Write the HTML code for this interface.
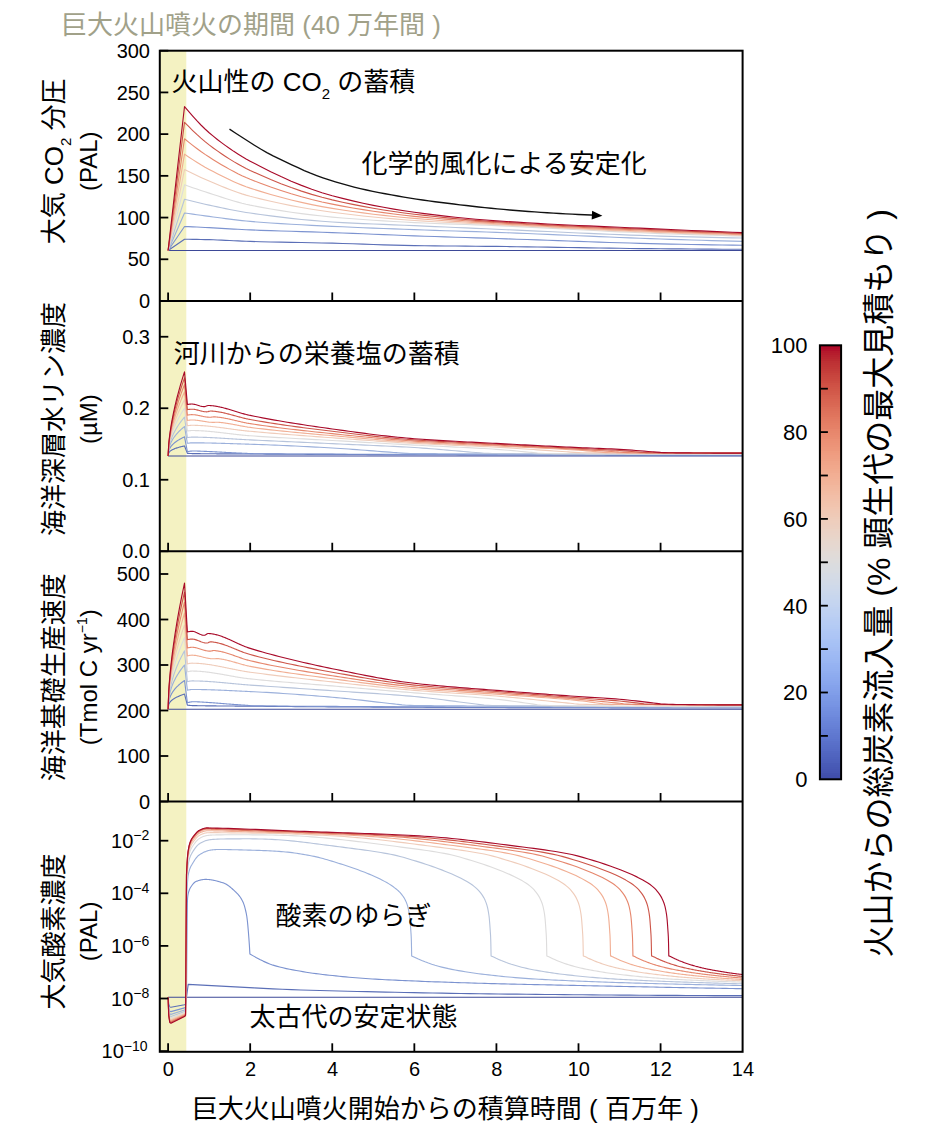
<!DOCTYPE html>
<html><head><meta charset="utf-8"><title>chart</title>
<style>html,body{margin:0;padding:0;background:#fff;font-family:"Liberation Sans",sans-serif;}svg{display:block;}svg text{font-family:"Liberation Sans","Noto Sans CJK JP",sans-serif;}</style>
</head><body>
<svg width="927" height="1134" viewBox="0 0 927 1134">
<rect x="159.8" y="50.7" width="26.5" height="1001.1" fill="#f4f2c2"/>
<polyline points="168.1,250.52 184.52,250.52 188.62,250.52 192.72,250.52 196.83,250.52 200.93,250.52 205.04,250.52 209.14,250.52 213.24,250.52 217.35,250.52 221.45,250.52 225.56,250.52 229.66,250.52 233.76,250.52 237.87,250.52 241.97,250.52 246.08,250.52 250.18,250.52 260.44,250.52 270.7,250.52 280.96,250.52 291.22,250.52 301.48,250.52 311.74,250.52 322,250.52 332.26,250.52 342.52,250.52 352.78,250.52 363.04,250.52 373.3,250.52 383.56,250.52 393.82,250.52 404.08,250.52 414.34,250.52 424.6,250.52 434.86,250.52 445.12,250.52 455.38,250.52 465.64,250.52 475.9,250.52 486.16,250.52 496.42,250.52 506.68,250.52 516.94,250.52 527.2,250.52 537.46,250.52 547.72,250.52 557.98,250.52 568.24,250.52 578.5,250.52 588.76,250.52 599.02,250.52 609.28,250.52 619.54,250.52 629.8,250.52 640.06,250.52 650.32,250.52 660.58,250.52 670.84,250.52 681.1,250.52 691.36,250.52 701.62,250.52 711.88,250.52 722.14,250.52 732.4,250.52 742.66,250.52" fill="none" stroke="#3d4997" stroke-width="1.12" stroke-linejoin="round"/>
<polyline points="168.1,250.52 184.52,239.26 188.62,239.3 192.72,239.35 196.83,239.42 200.93,239.5 205.04,239.58 209.14,239.68 213.24,239.79 217.35,239.94 221.45,240.12 225.56,240.32 229.66,240.52 233.76,240.73 237.87,240.93 241.97,241.12 246.08,241.29 250.18,241.43 260.44,241.71 270.7,241.95 280.96,242.16 291.22,242.35 301.48,242.54 311.74,242.73 322,242.94 332.26,243.18 342.52,243.46 352.78,243.79 363.04,244.13 373.3,244.49 383.56,244.83 393.82,245.14 404.08,245.41 414.34,245.6 424.6,245.74 434.86,245.86 445.12,245.96 455.38,246.05 465.64,246.14 475.9,246.23 486.16,246.32 496.42,246.43 506.68,246.56 516.94,246.7 527.2,246.85 537.46,247.01 547.72,247.17 557.98,247.34 568.24,247.5 578.5,247.67 588.76,247.84 599.02,248 609.28,248.16 619.54,248.31 629.8,248.44 640.06,248.57 650.32,248.68 660.58,248.77 670.84,248.85 681.1,248.93 691.36,249 701.62,249.07 711.88,249.13 722.14,249.19 732.4,249.23 742.66,249.27" fill="none" stroke="#5b6fb7" stroke-width="1.12" stroke-linejoin="round"/>
<polyline points="168.1,250.52 184.52,226.49 188.62,226.68 192.72,226.87 196.83,227.06 200.93,227.26 205.04,227.46 209.14,227.66 213.24,227.88 217.35,228.11 221.45,228.35 225.56,228.59 229.66,228.83 233.76,229.07 237.87,229.31 241.97,229.53 246.08,229.73 250.18,229.91 260.44,230.32 270.7,230.68 280.96,231.01 291.22,231.31 301.48,231.61 311.74,231.92 322,232.24 332.26,232.58 342.52,232.97 352.78,233.37 363.04,233.79 373.3,234.21 383.56,234.64 393.82,235.06 404.08,235.46 414.34,235.84 424.6,236.2 434.86,236.54 445.12,236.88 455.38,237.21 465.64,237.53 475.9,237.85 486.16,238.18 496.42,238.51 506.68,238.85 516.94,239.2 527.2,239.56 537.46,239.93 547.72,240.3 557.98,240.67 568.24,241.03 578.5,241.4 588.76,241.76 599.02,242.1 609.28,242.44 619.54,242.76 629.8,243.06 640.06,243.35 650.32,243.61 660.58,243.85 670.84,244.07 681.1,244.27 691.36,244.47 701.62,244.66 711.88,244.83 722.14,244.99 732.4,245.13 742.66,245.27" fill="none" stroke="#7c93d0" stroke-width="1.12" stroke-linejoin="round"/>
<polyline points="168.1,250.52 184.52,212.98 188.62,213.57 192.72,214.16 196.83,214.73 200.93,215.3 205.04,215.86 209.14,216.4 213.24,216.94 217.35,217.5 221.45,218.05 225.56,218.6 229.66,219.14 233.76,219.66 237.87,220.16 241.97,220.62 246.08,221.03 250.18,221.4 260.44,222.22 270.7,222.95 280.96,223.62 291.22,224.23 301.48,224.79 311.74,225.32 322,225.83 332.26,226.33 342.52,226.81 352.78,227.27 363.04,227.71 373.3,228.12 383.56,228.52 393.82,228.91 404.08,229.29 414.34,229.66 424.6,230.02 434.86,230.36 445.12,230.69 455.38,231 465.64,231.32 475.9,231.64 486.16,231.98 496.42,232.33 506.68,232.71 516.94,233.11 527.2,233.52 537.46,233.94 547.72,234.38 557.98,234.82 568.24,235.27 578.5,235.72 588.76,236.16 599.02,236.6 609.28,237.04 619.54,237.47 629.8,237.88 640.06,238.27 650.32,238.65 660.58,239.01 670.84,239.35 681.1,239.68 691.36,239.99 701.62,240.3 711.88,240.6 722.14,240.88 732.4,241.16 742.66,241.43" fill="none" stroke="#9bb0db" stroke-width="1.12" stroke-linejoin="round"/>
<polyline points="168.1,250.52 184.52,199.21 188.62,200.26 192.72,201.3 196.83,202.3 200.93,203.28 205.04,204.23 209.14,205.14 213.24,206.02 217.35,206.91 221.45,207.78 225.56,208.64 229.66,209.47 233.76,210.27 237.87,211.04 241.97,211.77 246.08,212.44 250.18,213.06 260.44,214.5 270.7,215.87 280.96,217.16 291.22,218.35 301.48,219.44 311.74,220.41 322,221.27 332.26,221.99 342.52,222.59 352.78,223.12 363.04,223.59 373.3,224.02 383.56,224.42 393.82,224.82 404.08,225.23 414.34,225.66 424.6,226.11 434.86,226.57 445.12,227.02 455.38,227.47 465.64,227.92 475.9,228.36 486.16,228.81 496.42,229.25 506.68,229.69 516.94,230.15 527.2,230.61 537.46,231.08 547.72,231.55 557.98,232.02 568.24,232.49 578.5,232.95 588.76,233.4 599.02,233.84 609.28,234.27 619.54,234.68 629.8,235.07 640.06,235.43 650.32,235.78 660.58,236.09 670.84,236.38 681.1,236.66 691.36,236.92 701.62,237.17 711.88,237.4 722.14,237.62 732.4,237.82 742.66,238.01" fill="none" stroke="#b7c4db" stroke-width="1.12" stroke-linejoin="round"/>
<polyline points="168.1,250.52 184.52,184.78 188.62,186.23 192.72,187.66 196.83,189.07 200.93,190.45 205.04,191.8 209.14,193.12 213.24,194.43 217.35,195.77 221.45,197.1 225.56,198.42 229.66,199.71 233.76,200.96 237.87,202.14 241.97,203.24 246.08,204.24 250.18,205.14 260.44,207.13 270.7,208.98 280.96,210.67 291.22,212.23 301.48,213.64 311.74,214.92 322,216.06 332.26,217.07 342.52,217.97 352.78,218.8 363.04,219.56 373.3,220.27 383.56,220.91 393.82,221.51 404.08,222.06 414.34,222.57 424.6,223.04 434.86,223.45 445.12,223.83 455.38,224.18 465.64,224.53 475.9,224.88 486.16,225.25 496.42,225.66 506.68,226.1 516.94,226.57 527.2,227.07 537.46,227.58 547.72,228.11 557.98,228.64 568.24,229.19 578.5,229.73 588.76,230.27 599.02,230.8 609.28,231.32 619.54,231.83 629.8,232.31 640.06,232.77 650.32,233.19 660.58,233.59 670.84,233.95 681.1,234.3 691.36,234.64 701.62,234.96 711.88,235.26 722.14,235.55 732.4,235.83 742.66,236.09" fill="none" stroke="#dddcdc" stroke-width="1.12" stroke-linejoin="round"/>
<polyline points="168.1,250.52 184.52,169.51 188.62,171.58 192.72,173.61 196.83,175.59 200.93,177.5 205.04,179.34 209.14,181.11 213.24,182.83 217.35,184.54 221.45,186.23 225.56,187.89 229.66,189.49 233.76,191.04 237.87,192.5 241.97,193.88 246.08,195.14 250.18,196.29 260.44,198.9 270.7,201.32 280.96,203.55 291.22,205.61 301.48,207.49 311.74,209.22 322,210.8 332.26,212.23 342.52,213.55 352.78,214.79 363.04,215.95 373.3,217.02 383.56,218.02 393.82,218.93 404.08,219.75 414.34,220.49 424.6,221.14 434.86,221.73 445.12,222.26 455.38,222.75 465.64,223.23 475.9,223.69 486.16,224.16 496.42,224.66 506.68,225.18 516.94,225.7 527.2,226.23 537.46,226.76 547.72,227.3 557.98,227.83 568.24,228.36 578.5,228.89 588.76,229.41 599.02,229.92 609.28,230.42 619.54,230.9 629.8,231.37 640.06,231.82 650.32,232.26 660.58,232.67 670.84,233.06 681.1,233.44 691.36,233.8 701.62,234.15 711.88,234.49 722.14,234.81 732.4,235.12 742.66,235.42" fill="none" stroke="#efccba" stroke-width="1.12" stroke-linejoin="round"/>
<polyline points="168.1,250.52 184.52,154.16 188.62,156.93 192.72,159.63 196.83,162.25 200.93,164.77 205.04,167.17 209.14,169.43 213.24,171.59 217.35,173.73 221.45,175.82 225.56,177.84 229.66,179.8 233.76,181.67 237.87,183.45 241.97,185.13 246.08,186.69 250.18,188.11 260.44,191.4 270.7,194.48 280.96,197.33 291.22,199.97 301.48,202.4 311.74,204.61 322,206.61 332.26,208.39 342.52,210.01 352.78,211.51 363.04,212.91 373.3,214.2 383.56,215.39 393.82,216.49 404.08,217.49 414.34,218.4 424.6,219.23 434.86,220 445.12,220.7 455.38,221.36 465.64,221.98 475.9,222.58 486.16,223.16 496.42,223.74 506.68,224.32 516.94,224.89 527.2,225.46 537.46,226.01 547.72,226.56 557.98,227.1 568.24,227.62 578.5,228.14 588.76,228.64 599.02,229.14 609.28,229.62 619.54,230.09 629.8,230.54 640.06,230.99 650.32,231.42 660.58,231.83 670.84,232.24 681.1,232.62 691.36,233 701.62,233.36 711.88,233.7 722.14,234.04 732.4,234.36 742.66,234.67" fill="none" stroke="#f1ae93" stroke-width="1.12" stroke-linejoin="round"/>
<polyline points="168.1,250.52 184.52,138.72 188.62,142.06 192.72,145.32 196.83,148.48 200.93,151.5 205.04,154.38 209.14,157.08 213.24,159.66 217.35,162.2 221.45,164.67 225.56,167.06 229.66,169.38 233.76,171.59 237.87,173.7 241.97,175.69 246.08,177.55 250.18,179.27 260.44,183.26 270.7,187.02 280.96,190.52 291.22,193.77 301.48,196.76 311.74,199.49 322,201.95 332.26,204.13 342.52,206.11 352.78,207.94 363.04,209.64 373.3,211.22 383.56,212.67 393.82,214 404.08,215.21 414.34,216.32 424.6,217.33 434.86,218.26 445.12,219.13 455.38,219.94 465.64,220.7 475.9,221.41 486.16,222.09 496.42,222.74 506.68,223.37 516.94,223.98 527.2,224.56 537.46,225.13 547.72,225.68 557.98,226.22 568.24,226.74 578.5,227.24 588.76,227.73 599.02,228.21 609.28,228.68 619.54,229.14 629.8,229.6 640.06,230.04 650.32,230.48 660.58,230.92 670.84,231.34 681.1,231.76 691.36,232.16 701.62,232.55 711.88,232.93 722.14,233.3 732.4,233.65 742.66,234" fill="none" stroke="#e6876d" stroke-width="1.12" stroke-linejoin="round"/>
<polyline points="168.1,250.52 184.52,122.29 188.62,126.46 192.72,130.53 196.83,134.44 200.93,138.16 205.04,141.66 209.14,144.9 213.24,147.94 217.35,150.89 221.45,153.75 225.56,156.49 229.66,159.12 233.76,161.64 237.87,164.03 241.97,166.3 246.08,168.43 250.18,170.43 260.44,175.11 270.7,179.54 280.96,183.69 291.22,187.55 301.48,191.12 311.74,194.37 322,197.29 332.26,199.88 342.52,202.21 352.78,204.37 363.04,206.37 373.3,208.22 383.56,209.93 393.82,211.5 404.08,212.93 414.34,214.23 424.6,215.43 434.86,216.55 445.12,217.6 455.38,218.58 465.64,219.49 475.9,220.33 486.16,221.11 496.42,221.82 506.68,222.49 516.94,223.13 527.2,223.73 537.46,224.3 547.72,224.85 557.98,225.38 568.24,225.89 578.5,226.38 588.76,226.85 599.02,227.31 609.28,227.77 619.54,228.21 629.8,228.66 640.06,229.1 650.32,229.55 660.58,230 670.84,230.45 681.1,230.89 691.36,231.32 701.62,231.74 711.88,232.15 722.14,232.55 732.4,232.95 742.66,233.34" fill="none" stroke="#cd5649" stroke-width="1.12" stroke-linejoin="round"/>
<polyline points="168.1,250.52 184.52,106.52 188.62,111.4 192.72,116.14 196.83,120.69 200.93,125 205.04,129.02 209.14,132.71 213.24,136.15 217.35,139.46 221.45,142.62 225.56,145.66 229.66,148.56 233.76,151.34 237.87,153.98 241.97,156.5 246.08,158.9 250.18,161.17 260.44,166.57 270.7,171.73 280.96,176.6 291.22,181.17 301.48,185.39 311.74,189.24 322,192.69 332.26,195.71 342.52,198.4 352.78,200.9 363.04,203.21 373.3,205.35 383.56,207.31 393.82,209.1 404.08,210.74 414.34,212.23 424.6,213.6 434.86,214.89 445.12,216.09 455.38,217.21 465.64,218.24 475.9,219.19 486.16,220.05 496.42,220.82 506.68,221.52 516.94,222.18 527.2,222.8 537.46,223.39 547.72,223.94 557.98,224.47 568.24,224.97 578.5,225.45 588.76,225.92 599.02,226.37 609.28,226.82 619.54,227.26 629.8,227.71 640.06,228.16 650.32,228.61 660.58,229.08 670.84,229.55 681.1,230.02 691.36,230.47 701.62,230.92 711.88,231.37 722.14,231.81 732.4,232.24 742.66,232.67" fill="none" stroke="#a80a29" stroke-width="1.12" stroke-linejoin="round"/>
<polyline points="168.1,456.01 742.66,456.01" fill="none" stroke="#3d4997" stroke-width="1.12" stroke-linejoin="round"/>
<polyline points="168.1,456.01 168.78,452.7 169.47,451.79 170.15,451.14 170.84,450.63 171.52,450.19 172.2,449.81 172.89,449.46 173.57,449.15 174.26,448.86 174.94,448.59 175.62,448.34 176.31,448.1 176.99,447.88 177.68,447.67 178.36,447.46 179.04,447.27 179.73,447.08 180.41,446.9 181.1,446.72 181.78,446.56 182.46,446.39 183.15,446.23 183.83,446.08 184.52,445.93 187.39,453.34 188.18,453.38 188.98,453.43 189.77,453.47 190.57,453.51 191.36,453.55 192.16,453.57 192.72,453.58 192.95,453.59 193.75,453.6 194.54,453.61 195.34,453.62 196.13,453.63 196.93,453.64 197.72,453.65 198.52,453.66 199.31,453.67 200.11,453.68 200.9,453.69 201.7,453.7 202.49,453.71 203.29,453.71 204.08,453.72 204.87,453.73 205.67,453.74 206.46,453.74 207.26,453.75 208.05,453.76 208.85,453.76 209.64,453.77 210.44,453.78 211.23,453.78 212.03,453.79 212.82,453.79 213.62,453.8 214.41,453.8 215.21,453.81 216,453.81 216.8,453.82 217.59,453.82 218.39,453.83 219.18,453.83 219.98,453.84 220.77,453.84 221.57,453.84 222.36,453.85 223.16,453.85 223.95,453.86 224.75,453.86 225.54,453.86 226.34,453.87 227.13,453.87 227.92,453.87 228.72,453.88 229.51,453.88 230.31,453.88 231.1,453.89 231.9,453.89 232.69,453.89 233.49,453.9 234.28,453.9 235.08,453.9 235.87,453.91 236.67,453.91 237.46,453.91 238.26,453.92 239.05,453.92 239.85,453.92 240.64,453.93 241.44,453.93 242.23,453.94 243.03,453.94 243.82,453.94 244.62,453.95 245.41,453.95 246.21,453.95 247,453.96 247.8,453.96 248.59,453.97 249.39,453.97 250.18,453.98 254.28,454 258.39,454.03 262.49,454.05 266.6,454.08 270.7,454.11 274.8,454.13 278.91,454.16 283.01,454.18 287.12,454.21 291.22,454.23 295.32,454.25 299.43,454.28 303.53,454.3 307.64,454.32 311.74,454.34 315.84,454.36 319.95,454.38 324.05,454.4 328.16,454.42 332.26,454.43 336.36,454.45 340.47,454.46 344.57,454.48 348.68,454.49 352.78,454.51 356.88,454.52 360.99,454.54 365.09,454.55 369.2,454.57 373.3,454.58 377.4,454.59 381.51,454.61 385.61,454.62 389.72,454.63 393.82,454.64 397.92,454.66 402.03,454.67 406.13,454.68 410.24,454.69 414.34,454.7 418.44,454.72 422.55,454.73 426.65,454.74 430.76,454.75 434.86,454.76 438.96,454.77 443.07,454.78 447.17,454.79 451.28,454.8 455.38,454.81 459.48,454.82 463.59,454.82 467.69,454.83 471.8,454.84 475.9,454.85 480,454.86 484.11,454.87 488.21,454.87 492.32,454.88 496.42,454.89 500.52,454.9 504.63,454.9 508.73,454.91 512.84,454.92 516.94,454.92 521.04,454.93 525.15,454.94 529.25,454.95 533.36,454.95 537.46,454.96 541.56,454.97 545.67,454.97 549.77,454.98 553.88,454.99 557.98,454.99 562.08,455 566.19,455.01 570.29,455.01 574.4,455.02 578.5,455.03 582.6,455.03 586.71,455.04 590.81,455.04 594.92,455.05 599.02,455.06 603.12,455.06 607.23,455.07 611.33,455.07 615.44,455.08 619.54,455.08 623.64,455.09 627.75,455.1 631.85,455.1 635.96,455.11 640.06,455.11 644.16,455.12 648.27,455.12 652.37,455.13 656.48,455.13 660.58,455.13 664.68,455.14 668.79,455.14 672.89,455.15 677,455.15 681.1,455.15 685.2,455.16 689.31,455.16 693.41,455.16 697.52,455.17 701.62,455.17 705.72,455.17 709.83,455.18 713.93,455.18 718.04,455.18 722.14,455.18 726.24,455.19 730.35,455.19 734.45,455.19 738.56,455.19 742.66,455.19" fill="none" stroke="#5b6fb7" stroke-width="1.12" stroke-linejoin="round"/>
<polyline points="168.1,456.01 168.78,450.63 169.47,448.91 170.15,447.66 170.84,446.64 171.52,445.77 172.2,444.99 172.89,444.29 173.57,443.65 174.26,443.05 174.94,442.49 175.62,441.97 176.31,441.47 176.99,441 177.68,440.55 178.36,440.11 179.04,439.7 179.73,439.3 180.41,438.91 181.1,438.54 181.78,438.17 182.46,437.82 183.15,437.48 183.83,437.15 184.52,436.82 187.39,451.7 188.18,451.56 188.98,451.42 189.77,451.28 190.57,451.16 191.36,451.07 192.16,451.02 192.72,451 192.95,451 193.75,451.01 194.54,451.01 195.34,451.03 196.13,451.04 196.93,451.06 197.72,451.08 198.52,451.11 199.31,451.13 200.11,451.16 200.9,451.19 201.7,451.22 202.49,451.26 203.29,451.29 204.08,451.33 204.87,451.36 205.67,451.4 206.46,451.43 207.26,451.47 208.05,451.5 208.85,451.54 209.14,451.55 209.64,451.57 210.44,451.6 211.23,451.64 212.03,451.67 212.82,451.71 213.62,451.75 214.41,451.79 215.21,451.83 216,451.87 216.8,451.92 217.59,451.96 218.39,452 219.18,452.05 219.98,452.09 220.77,452.13 221.57,452.18 222.36,452.22 223.16,452.27 223.95,452.31 224.75,452.36 225.54,452.4 226.34,452.44 227.13,452.48 227.92,452.52 228.72,452.57 229.51,452.6 229.66,452.61 230.31,452.64 231.1,452.68 231.9,452.72 232.69,452.76 233.49,452.79 234.28,452.83 235.08,452.87 235.87,452.9 236.67,452.94 237.46,452.97 238.26,453.01 239.05,453.05 239.85,453.08 240.64,453.12 241.44,453.15 242.23,453.19 243.03,453.23 243.82,453.26 244.62,453.3 245.41,453.34 246.08,453.37 246.21,453.38 247,453.42 247.8,453.47 248.59,453.52 249.39,453.56 250.18,453.61 252.23,453.67 254.28,453.7 258.39,453.75 262.49,453.79 266.6,453.83 270.7,453.87 274.8,453.9 278.91,453.93 283.01,453.95 287.12,453.97 291.22,453.99 295.32,454.01 299.43,454.02 303.53,454.04 307.64,454.05 311.74,454.06 315.84,454.08 319.95,454.09 324.05,454.1 328.16,454.11 332.26,454.13 336.36,454.15 340.47,454.16 344.57,454.18 348.68,454.19 352.78,454.21 356.88,454.22 360.99,454.24 365.09,454.25 369.2,454.26 373.3,454.28 377.4,454.29 381.51,454.3 385.61,454.32 389.72,454.33 393.82,454.34 397.92,454.35 402.03,454.37 406.13,454.38 410.24,454.39 414.34,454.4 418.44,454.41 422.55,454.42 426.65,454.43 430.76,454.44 434.86,454.45 438.96,454.46 443.07,454.47 447.17,454.48 451.28,454.49 455.38,454.5 459.48,454.51 463.59,454.52 467.69,454.53 471.8,454.54 475.9,454.55 480,454.55 484.11,454.56 488.21,454.57 492.32,454.58 496.42,454.59 500.52,454.59 504.63,454.6 508.73,454.61 512.84,454.61 516.94,454.62 521.04,454.63 525.15,454.63 529.25,454.64 533.36,454.65 537.46,454.66 541.56,454.66 545.67,454.67 549.77,454.68 553.88,454.68 557.98,454.69 562.08,454.7 566.19,454.7 570.29,454.71 574.4,454.72 578.5,454.72 582.6,454.73 586.71,454.73 590.81,454.74 594.92,454.75 599.02,454.75 603.12,454.76 607.23,454.76 611.33,454.77 615.44,454.78 619.54,454.78 623.64,454.79 627.75,454.79 631.85,454.8 635.96,454.8 640.06,454.81 644.16,454.81 648.27,454.82 652.37,454.82 656.48,454.83 660.58,454.83 664.68,454.83 668.79,454.84 672.89,454.84 677,454.85 681.1,454.85 685.2,454.85 689.31,454.86 693.41,454.86 697.52,454.86 701.62,454.87 705.72,454.87 709.83,454.87 713.93,454.88 718.04,454.88 722.14,454.88 726.24,454.88 730.35,454.88 734.45,454.89 738.56,454.89 742.66,454.89" fill="none" stroke="#7c93d0" stroke-width="1.12" stroke-linejoin="round"/>
<polyline points="168.1,456.01 168.78,448.95 169.47,446.37 170.15,444.44 170.84,442.84 171.52,441.44 172.2,440.2 172.89,439.06 173.57,438.01 174.26,437.03 174.94,436.11 175.62,435.24 176.31,434.41 176.99,433.62 177.68,432.86 178.36,432.13 179.04,431.42 179.73,430.74 180.41,430.08 181.1,429.45 181.78,428.83 182.46,428.22 183.15,427.63 183.83,427.06 184.52,426.5 187.39,443.29 188.18,443.19 188.98,443.09 189.77,442.99 190.57,442.9 191.36,442.85 191.9,442.84 192.16,442.84 192.95,442.84 193.75,442.84 194.54,442.84 195.34,442.84 196.13,442.85 196.93,442.85 197.72,442.86 198.52,442.86 199.31,442.87 200.11,442.88 200.9,442.89 201.7,442.9 202.49,442.91 203.29,442.92 204.08,442.93 204.87,442.94 205.67,442.96 206.46,442.97 207.26,442.98 208.05,443 208.85,443.01 209.64,443.03 210.44,443.04 211.23,443.06 212.03,443.08 212.82,443.1 213.62,443.12 214.41,443.13 215.21,443.15 216,443.17 216.8,443.19 217.59,443.21 218.39,443.24 219.18,443.26 219.98,443.28 220.77,443.3 221.57,443.32 222.36,443.35 223.16,443.37 223.95,443.39 224.75,443.42 225.54,443.44 226.34,443.46 227.13,443.49 227.92,443.51 228.72,443.54 229.51,443.56 230.31,443.59 231.1,443.61 231.9,443.64 232.69,443.67 233.49,443.69 234.28,443.72 235.08,443.74 235.87,443.77 236.67,443.79 237.46,443.82 238.26,443.85 239.05,443.87 239.85,443.9 240.64,443.93 241.44,443.95 242.23,443.98 243.03,444 243.82,444.03 244.62,444.06 245.41,444.08 246.21,444.11 247,444.13 247.8,444.16 248.59,444.18 249.39,444.21 250.18,444.23 254.28,444.36 258.39,444.5 262.49,444.65 266.6,444.8 270.7,444.96 274.8,445.12 278.91,445.3 283.01,445.48 287.12,445.66 291.22,445.85 295.32,446.04 299.43,446.24 303.53,446.45 307.64,446.66 311.74,446.87 315.84,447.09 319.95,447.31 324.05,447.54 328.16,447.77 332.26,448 336.36,448.24 340.47,448.5 344.57,448.77 348.68,449.06 352.78,449.35 356.88,449.66 360.99,449.97 365.09,450.29 369.2,450.61 373.3,450.93 377.4,451.25 381.51,451.57 385.61,451.88 389.72,452.18 393.82,452.47 396.49,452.66 397.92,452.76 402.03,453.08 406.13,453.32 406.75,453.34 410.24,453.44 414.34,453.53 418.44,453.58 419.06,453.58 422.55,453.6 426.65,453.62 430.76,453.65 434.86,453.67 438.96,453.69 443.07,453.71 447.17,453.73 451.28,453.75 455.38,453.77 459.48,453.79 463.59,453.81 467.69,453.82 471.8,453.84 475.9,453.86 480,453.88 484.11,453.89 488.21,453.91 492.32,453.93 496.42,453.94 500.52,453.96 504.63,453.97 508.73,453.99 512.84,454 516.94,454.01 521.04,454.03 525.15,454.04 529.25,454.05 533.36,454.07 537.46,454.08 541.56,454.09 545.67,454.1 549.77,454.11 553.88,454.12 557.98,454.13 562.08,454.14 566.19,454.15 570.29,454.16 574.4,454.17 578.5,454.18 582.6,454.19 586.71,454.2 590.81,454.21 594.92,454.22 599.02,454.22 603.12,454.23 607.23,454.24 611.33,454.24 615.44,454.25 619.54,454.26 623.64,454.26 627.75,454.27 631.85,454.27 635.96,454.28 640.06,454.28 644.16,454.29 648.27,454.29 652.37,454.3 656.48,454.3 660.58,454.31 664.68,454.31 668.79,454.31 672.89,454.32 677,454.32 681.1,454.32 685.2,454.33 689.31,454.33 693.41,454.33 697.52,454.33 701.62,454.33 705.72,454.34 709.83,454.34 713.93,454.34 718.04,454.34 722.14,454.34 726.24,454.34 730.35,454.34 734.45,454.34 738.56,454.34 742.66,454.34" fill="none" stroke="#9bb0db" stroke-width="1.12" stroke-linejoin="round"/>
<polyline points="168.1,456.01 168.78,448.07 169.47,444.78 170.15,442.25 170.84,440.12 171.52,438.25 172.2,436.55 172.89,434.99 173.57,433.54 174.26,432.18 174.94,430.89 175.62,429.66 176.31,428.49 176.99,427.37 177.68,426.28 178.36,425.24 179.04,424.23 179.73,423.25 180.41,422.3 181.1,421.38 181.78,420.48 182.46,419.6 183.15,418.75 183.83,417.91 184.52,417.09 187.39,437.58 188.18,437.49 188.98,437.38 189.77,437.28 190.57,437.19 191.36,437.14 191.9,437.13 192.16,437.13 192.95,437.13 193.75,437.13 194.54,437.14 195.34,437.15 196.13,437.16 196.93,437.17 197.72,437.18 198.52,437.2 199.31,437.21 200.11,437.23 200.9,437.25 201.7,437.27 202.49,437.29 203.29,437.32 204.08,437.35 204.87,437.37 205.67,437.4 206.46,437.43 207.26,437.46 208.05,437.5 208.85,437.53 209.64,437.56 210.44,437.6 211.23,437.64 212.03,437.68 212.82,437.72 213.62,437.76 214.41,437.8 215.21,437.84 216,437.88 216.8,437.92 217.59,437.97 218.39,438.01 219.18,438.06 219.98,438.11 220.77,438.15 221.57,438.2 222.36,438.25 223.16,438.3 223.95,438.34 224.75,438.39 225.54,438.44 226.34,438.49 227.13,438.54 227.92,438.59 228.72,438.64 229.51,438.69 230.31,438.74 231.1,438.79 231.9,438.84 232.69,438.89 233.49,438.94 234.28,438.99 235.08,439.04 235.87,439.09 236.67,439.14 237.46,439.19 238.26,439.24 239.05,439.29 239.85,439.33 240.64,439.38 241.44,439.43 242.23,439.47 243.03,439.52 243.82,439.56 244.62,439.61 245.41,439.65 246.21,439.69 247,439.73 247.8,439.77 248.59,439.81 249.39,439.85 250.18,439.89 254.28,440.08 258.39,440.27 262.49,440.46 266.6,440.65 270.7,440.84 274.8,441.03 278.91,441.21 283.01,441.4 287.12,441.59 291.22,441.77 295.32,441.96 299.43,442.15 303.53,442.33 307.64,442.52 311.74,442.71 315.84,442.9 319.95,443.09 324.05,443.27 328.16,443.46 332.26,443.66 336.36,443.84 340.47,444.03 344.57,444.21 348.68,444.39 352.78,444.57 356.88,444.74 360.99,444.92 365.09,445.1 369.2,445.27 373.3,445.45 377.4,445.64 381.51,445.82 385.61,446.02 389.72,446.21 393.82,446.41 397.92,446.62 402.03,446.84 406.13,447.06 410.24,447.3 414.34,447.54 418.44,447.8 422.55,448.08 426.65,448.38 430.76,448.7 434.86,449.03 438.96,449.38 443.07,449.73 447.17,450.08 451.28,450.45 455.38,450.81 459.48,451.17 463.59,451.53 467.69,451.88 471.8,452.22 475.9,452.55 480,452.91 484.11,453.24 486.16,453.34 488.21,453.4 492.32,453.5 496.42,453.56 498.47,453.58 500.52,453.6 504.63,453.62 508.73,453.65 512.84,453.68 516.94,453.7 521.04,453.73 525.15,453.75 529.25,453.78 533.36,453.8 537.46,453.82 541.56,453.85 545.67,453.87 549.77,453.89 553.88,453.91 557.98,453.93 562.08,453.95 566.19,453.97 570.29,453.99 574.4,454.01 578.5,454.02 582.6,454.04 586.71,454.06 590.81,454.07 594.92,454.09 599.02,454.1 603.12,454.12 607.23,454.13 611.33,454.14 615.44,454.16 619.54,454.17 623.64,454.18 627.75,454.19 631.85,454.2 635.96,454.21 640.06,454.22 644.16,454.23 648.27,454.24 652.37,454.25 656.48,454.26 660.58,454.27 664.68,454.28 668.79,454.28 672.89,454.29 677,454.3 681.1,454.3 685.2,454.31 689.31,454.31 693.41,454.32 697.52,454.32 701.62,454.32 705.72,454.33 709.83,454.33 713.93,454.33 718.04,454.34 722.14,454.34 726.24,454.34 730.35,454.34 734.45,454.34 738.56,454.34 742.66,454.34" fill="none" stroke="#b7c4db" stroke-width="1.12" stroke-linejoin="round"/>
<polyline points="168.1,456.01 168.78,446.87 169.47,442.9 170.15,439.83 170.84,437.21 171.52,434.9 172.2,432.8 172.89,430.86 173.57,429.06 174.26,427.35 174.94,425.74 175.62,424.2 176.31,422.73 176.99,421.31 177.68,419.95 178.36,418.63 179.04,417.36 179.73,416.12 180.41,414.92 181.1,413.74 181.78,412.6 182.46,411.49 183.15,410.4 183.83,409.33 184.52,408.28 187.39,430.99 188.18,430.9 188.98,430.79 189.77,430.69 190.57,430.6 191.36,430.55 191.9,430.54 192.16,430.54 192.95,430.54 193.75,430.55 194.54,430.56 195.34,430.58 196.13,430.6 196.93,430.62 197.72,430.65 198.52,430.68 199.31,430.71 200.11,430.75 200.9,430.79 201.7,430.84 202.49,430.88 203.29,430.93 204.08,430.99 204.87,431.04 205.67,431.1 206.46,431.16 207.26,431.22 208.05,431.29 208.85,431.36 209.64,431.43 210.44,431.5 211.23,431.58 212.03,431.66 212.82,431.73 213.62,431.81 214.41,431.9 215.21,431.98 216,432.07 216.8,432.15 217.59,432.24 218.39,432.33 219.18,432.42 219.98,432.51 220.77,432.6 221.57,432.7 222.36,432.79 223.16,432.88 223.95,432.98 224.75,433.07 225.54,433.17 226.34,433.26 227.13,433.36 227.92,433.46 228.72,433.55 229.51,433.65 230.31,433.74 231.1,433.84 231.9,433.93 232.69,434.03 233.49,434.12 234.28,434.21 235.08,434.3 235.87,434.39 236.67,434.48 237.46,434.57 238.26,434.66 239.05,434.75 239.85,434.83 240.64,434.92 241.44,435 242.23,435.08 243.03,435.15 243.82,435.23 244.62,435.31 245.41,435.38 246.21,435.45 247,435.52 247.8,435.58 248.59,435.64 249.39,435.7 250.18,435.76 254.28,436.05 258.39,436.32 262.49,436.59 266.6,436.85 270.7,437.1 274.8,437.34 278.91,437.58 283.01,437.81 287.12,438.03 291.22,438.26 295.32,438.48 299.43,438.7 303.53,438.91 307.64,439.13 311.74,439.35 315.84,439.57 319.95,439.79 324.05,440.01 328.16,440.24 332.26,440.47 336.36,440.7 340.47,440.93 344.57,441.17 348.68,441.4 352.78,441.64 356.88,441.87 360.99,442.1 365.09,442.34 369.2,442.57 373.3,442.8 377.4,443.04 381.51,443.27 385.61,443.5 389.72,443.73 393.82,443.96 397.92,444.18 402.03,444.41 406.13,444.64 410.24,444.86 414.34,445.08 418.44,445.3 422.55,445.51 426.65,445.71 430.76,445.91 434.86,446.11 438.96,446.3 443.07,446.49 447.17,446.68 451.28,446.87 455.38,447.07 459.48,447.26 463.59,447.46 467.69,447.67 471.8,447.88 475.9,448.1 480,448.32 484.11,448.56 488.21,448.8 492.32,449.06 496.42,449.33 500.52,449.63 504.63,449.96 508.73,450.31 512.84,450.68 516.94,451.06 521.04,451.45 525.15,451.84 529.25,452.22 531.63,452.43 533.36,452.6 537.46,453.03 541.56,453.33 541.89,453.34 545.67,453.45 549.77,453.53 553.88,453.58 554.2,453.58 557.98,453.61 562.08,453.65 566.19,453.68 570.29,453.71 574.4,453.74 578.5,453.77 582.6,453.8 586.71,453.83 590.81,453.86 594.92,453.88 599.02,453.91 603.12,453.93 607.23,453.96 611.33,453.98 615.44,454 619.54,454.02 623.64,454.05 627.75,454.07 631.85,454.09 635.96,454.11 640.06,454.12 644.16,454.14 648.27,454.16 652.37,454.17 656.48,454.19 660.58,454.2 664.68,454.22 668.79,454.23 672.89,454.24 677,454.25 681.1,454.26 685.2,454.27 689.31,454.28 693.41,454.29 697.52,454.3 701.62,454.31 705.72,454.31 709.83,454.32 713.93,454.33 718.04,454.33 722.14,454.33 726.24,454.34 730.35,454.34 734.45,454.34 738.56,454.34 742.66,454.34" fill="none" stroke="#dddcdc" stroke-width="1.12" stroke-linejoin="round"/>
<polyline points="168.1,456.01 168.78,446.22 169.47,441.68 170.15,438.1 170.84,435.02 171.52,432.28 172.2,429.78 172.89,427.46 173.57,425.28 174.26,423.23 174.94,421.27 175.62,419.4 176.31,417.61 176.99,415.88 177.68,414.21 178.36,412.59 179.04,411.02 179.73,409.5 180.41,408.01 181.1,406.56 181.78,405.15 182.46,403.77 183.15,402.41 183.83,401.08 184.52,399.78 187.39,425.74 188.18,425.64 188.98,425.54 189.77,425.43 190.57,425.35 191.36,425.3 191.9,425.29 192.16,425.29 192.95,425.29 193.75,425.3 194.54,425.31 195.34,425.33 196.13,425.35 196.93,425.38 197.72,425.41 198.52,425.44 199.31,425.48 200.11,425.52 200.9,425.57 201.7,425.62 202.49,425.67 203.29,425.72 204.08,425.78 204.87,425.85 205.67,425.91 206.46,425.98 207.26,426.05 208.05,426.12 208.85,426.2 209.64,426.28 210.44,426.36 211.23,426.45 212.03,426.53 212.82,426.62 213.62,426.71 214.41,426.8 215.21,426.9 216,426.99 216.8,427.09 217.59,427.19 218.39,427.29 219.18,427.39 219.98,427.5 220.77,427.6 221.57,427.7 222.36,427.81 223.16,427.92 223.95,428.03 224.75,428.13 225.54,428.24 226.34,428.35 227.13,428.46 227.92,428.57 228.72,428.68 229.51,428.79 230.31,428.9 231.1,429.01 231.9,429.12 232.69,429.23 233.49,429.33 234.28,429.44 235.08,429.55 235.87,429.65 236.67,429.76 237.46,429.86 238.26,429.97 239.05,430.07 239.85,430.17 240.64,430.27 241.44,430.36 242.23,430.46 243.03,430.55 243.82,430.64 244.62,430.73 245.41,430.82 246.21,430.91 247,430.99 247.8,431.07 248.59,431.15 249.39,431.23 250.18,431.3 254.28,431.67 258.39,432.03 262.49,432.38 266.6,432.73 270.7,433.07 274.8,433.41 278.91,433.74 283.01,434.07 287.12,434.4 291.22,434.72 295.32,435.04 299.43,435.35 303.53,435.66 307.64,435.97 311.74,436.28 315.84,436.59 319.95,436.89 324.05,437.19 328.16,437.49 332.26,437.8 336.36,438.1 340.47,438.4 344.57,438.7 348.68,439.01 352.78,439.31 356.88,439.61 360.99,439.91 365.09,440.21 369.2,440.5 373.3,440.79 377.4,441.08 381.51,441.36 385.61,441.64 389.72,441.91 393.82,442.18 397.92,442.44 402.03,442.7 406.13,442.94 410.24,443.18 414.34,443.41 418.44,443.63 422.55,443.85 426.65,444.05 430.76,444.24 434.86,444.43 438.96,444.62 443.07,444.8 447.17,444.97 451.28,445.14 455.38,445.32 459.48,445.49 463.59,445.66 467.69,445.84 471.8,446.02 475.9,446.2 480,446.39 484.11,446.58 488.21,446.78 492.32,446.99 496.42,447.21 500.52,447.44 504.63,447.67 508.73,447.92 512.84,448.18 516.94,448.44 521.04,448.71 525.15,448.98 529.25,449.26 533.36,449.54 537.46,449.82 541.56,450.1 545.67,450.39 549.77,450.67 553.88,450.96 557.98,451.24 562.08,451.51 566.19,451.79 568.12,451.91 570.29,452.07 574.4,452.37 578.38,452.58 578.5,452.58 582.6,452.7 586.71,452.78 590.69,452.82 590.81,452.82 594.92,452.84 599.02,452.86 603.12,452.88 607.23,452.9 611.33,452.91 615.44,452.93 619.54,452.94 623.64,452.96 627.75,452.97 631.85,452.98 635.96,452.99 640.06,453.01 644.16,453.02 648.27,453.03 652.37,453.04 656.48,453.05 660.58,453.05 664.68,453.06 668.79,453.07 672.89,453.08 677,453.08 681.1,453.09 685.2,453.09 689.31,453.1 693.41,453.1 697.52,453.11 701.62,453.11 705.72,453.11 709.83,453.12 713.93,453.12 718.04,453.12 722.14,453.12 726.24,453.13 730.35,453.13 734.45,453.13 738.56,453.13 742.66,453.13" fill="none" stroke="#efccba" stroke-width="1.12" stroke-linejoin="round"/>
<polyline points="168.1,456.01 168.78,445.53 169.47,440.46 170.15,436.41 170.84,432.92 171.52,429.79 172.2,426.92 172.89,424.24 173.57,421.73 174.26,419.35 174.94,417.08 175.62,414.91 176.31,412.82 176.99,410.8 177.68,408.85 178.36,406.96 179.04,405.12 179.73,403.33 180.41,401.59 181.1,399.88 181.78,398.22 182.46,396.59 183.15,394.99 183.83,393.43 184.52,391.89 187.39,420.4 188.18,420.29 188.98,420.18 189.77,420.08 190.57,420 191.36,419.95 191.9,419.94 192.16,419.94 192.95,419.96 193.75,419.99 194.54,420.05 195.34,420.11 196.13,420.19 196.93,420.28 197.72,420.39 198.52,420.5 199.31,420.62 200.11,420.74 200.9,420.87 201.7,421.01 202.49,421.14 203.29,421.28 204.08,421.41 204.87,421.54 205.67,421.67 206.46,421.79 207.26,421.91 208.05,422.01 208.85,422.11 209.64,422.19 210.44,422.26 211.23,422.31 212.03,422.35 212.82,422.37 213.24,422.37 213.62,422.37 214.41,422.35 215.21,422.31 216,422.28 216.8,422.26 217.35,422.25 217.59,422.25 218.39,422.29 219.18,422.35 219.98,422.43 220.63,422.5 220.77,422.51 221.57,422.59 222.36,422.68 223.16,422.77 223.95,422.87 224.75,422.98 225.54,423.09 226.34,423.21 227.13,423.33 227.92,423.46 228.72,423.59 229.51,423.73 230.31,423.87 231.1,424.01 231.9,424.16 232.69,424.3 233.49,424.45 234.28,424.61 235.08,424.76 235.87,424.91 236.67,425.07 237.46,425.22 238.26,425.37 239.05,425.53 239.85,425.68 240.64,425.83 241.44,425.98 242.23,426.13 243.03,426.28 243.82,426.42 244.62,426.56 245.41,426.69 246.21,426.82 247,426.95 247.8,427.08 248.59,427.19 249.39,427.31 250.18,427.41 254.28,427.94 258.39,428.44 262.49,428.93 266.6,429.41 270.7,429.86 274.8,430.31 278.91,430.74 283.01,431.16 287.12,431.56 291.22,431.96 295.32,432.35 299.43,432.74 303.53,433.11 307.64,433.48 311.74,433.85 315.84,434.22 319.95,434.58 324.05,434.94 328.16,435.3 332.26,435.67 336.36,436.04 340.47,436.41 344.57,436.77 348.68,437.14 352.78,437.51 356.88,437.87 360.99,438.23 365.09,438.59 369.2,438.94 373.3,439.28 377.4,439.62 381.51,439.96 385.61,440.28 389.72,440.6 393.82,440.9 397.92,441.2 402.03,441.48 406.13,441.75 410.24,442.01 414.34,442.26 418.44,442.49 422.55,442.71 426.65,442.93 430.76,443.13 434.86,443.33 438.96,443.52 443.07,443.7 447.17,443.88 451.28,444.05 455.38,444.22 459.48,444.39 463.59,444.56 467.69,444.73 471.8,444.9 475.9,445.07 480,445.25 484.11,445.43 488.21,445.61 492.32,445.8 496.42,445.99 500.52,446.19 504.63,446.38 508.73,446.58 512.84,446.77 516.94,446.96 521.04,447.15 525.15,447.34 529.25,447.53 533.36,447.72 537.46,447.92 541.56,448.12 545.67,448.33 549.77,448.54 553.88,448.76 557.98,448.99 562.08,449.22 566.19,449.46 570.29,449.71 574.4,449.97 578.5,450.24 582.6,450.55 586.71,450.89 590.81,451.25 594.92,451.62 595.33,451.65 599.02,452.03 603.12,452.44 605.59,452.58 607.23,452.63 611.33,452.74 615.44,452.8 617.9,452.82 619.54,452.83 623.64,452.85 627.75,452.88 631.85,452.9 635.96,452.91 640.06,452.93 644.16,452.95 648.27,452.97 652.37,452.98 656.48,452.99 660.58,453.01 664.68,453.02 668.79,453.03 672.89,453.04 677,453.05 681.1,453.06 685.2,453.07 689.31,453.08 693.41,453.09 697.52,453.09 701.62,453.1 705.72,453.11 709.83,453.11 713.93,453.11 718.04,453.12 722.14,453.12 726.24,453.12 730.35,453.13 734.45,453.13 738.56,453.13 742.66,453.13" fill="none" stroke="#f1ae93" stroke-width="1.12" stroke-linejoin="round"/>
<polyline points="168.1,456.01 168.78,444.71 169.47,439.11 170.15,434.63 170.84,430.75 171.52,427.26 172.2,424.06 172.89,421.07 173.57,418.25 174.26,415.58 174.94,413.04 175.62,410.59 176.31,408.24 176.99,405.97 177.68,403.77 178.36,401.64 179.04,399.57 179.73,397.55 180.41,395.58 181.1,393.65 181.78,391.77 182.46,389.92 183.15,388.12 183.83,386.34 184.52,384.6 187.39,415.12 188.18,415 188.98,414.89 189.77,414.79 190.57,414.71 191.36,414.67 191.9,414.66 192.16,414.66 192.95,414.69 193.75,414.74 194.54,414.81 195.34,414.91 196.13,415.02 196.93,415.15 197.72,415.3 198.52,415.45 199.31,415.61 200.11,415.78 200.9,415.95 201.7,416.12 202.49,416.29 203.29,416.45 204.08,416.61 204.87,416.75 205.67,416.89 206.46,417 207.26,417.1 208.05,417.17 208.85,417.23 209.64,417.25 209.96,417.26 210.44,417.24 211.23,417.16 212.03,417.05 212.82,416.94 213.62,416.86 214.06,416.85 214.41,416.85 215.21,416.89 216,416.96 216.8,417.04 217.35,417.1 217.59,417.12 218.39,417.21 219.18,417.3 219.98,417.41 220.77,417.52 221.57,417.64 222.36,417.76 223.16,417.9 223.95,418.04 224.75,418.18 225.54,418.33 226.34,418.49 227.13,418.65 227.92,418.82 228.72,418.99 229.51,419.16 230.31,419.34 231.1,419.52 231.9,419.7 232.69,419.88 233.49,420.07 234.28,420.26 235.08,420.44 235.87,420.63 236.67,420.82 237.46,421.01 238.26,421.2 239.05,421.38 239.85,421.57 240.64,421.75 241.44,421.93 242.23,422.11 243.03,422.28 243.82,422.46 244.62,422.62 245.41,422.78 246.21,422.94 247,423.1 247.8,423.24 248.59,423.38 249.39,423.52 250.18,423.65 254.28,424.28 258.39,424.89 262.49,425.49 266.6,426.06 270.7,426.62 274.8,427.17 278.91,427.7 283.01,428.21 287.12,428.71 291.22,429.2 295.32,429.68 299.43,430.15 303.53,430.61 307.64,431.06 311.74,431.51 315.84,431.95 319.95,432.38 324.05,432.81 328.16,433.24 332.26,433.67 336.36,434.09 340.47,434.52 344.57,434.94 348.68,435.36 352.78,435.78 356.88,436.19 360.99,436.6 365.09,437 369.2,437.4 373.3,437.78 377.4,438.16 381.51,438.54 385.61,438.9 389.72,439.25 393.82,439.58 397.92,439.91 402.03,440.22 406.13,440.52 410.24,440.81 414.34,441.07 418.44,441.33 422.55,441.57 426.65,441.8 430.76,442.02 434.86,442.24 438.96,442.44 443.07,442.64 447.17,442.84 451.28,443.03 455.38,443.21 459.48,443.4 463.59,443.58 467.69,443.76 471.8,443.94 475.9,444.12 480,444.3 484.11,444.49 488.21,444.68 492.32,444.88 496.42,445.08 500.52,445.29 504.63,445.49 508.73,445.7 512.84,445.9 516.94,446.1 521.04,446.3 525.15,446.51 529.25,446.71 533.36,446.91 537.46,447.12 541.56,447.33 545.67,447.54 549.77,447.75 553.88,447.97 557.98,448.18 562.08,448.41 566.19,448.63 570.29,448.86 574.4,449.09 578.5,449.33 582.6,449.58 586.71,449.84 590.81,450.1 594.92,450.38 599.02,450.65 603.12,450.93 607.23,451.21 611.33,451.49 615.44,451.76 617.73,451.91 619.54,452.04 623.64,452.35 627.75,452.57 627.99,452.58 631.85,452.69 635.96,452.77 640.06,452.82 640.31,452.82 644.16,452.85 648.27,452.87 652.37,452.9 656.48,452.92 660.58,452.94 664.68,452.96 668.79,452.98 672.89,452.99 677,453.01 681.1,453.02 685.2,453.04 689.31,453.05 693.41,453.06 697.52,453.07 701.62,453.08 705.72,453.09 709.83,453.1 713.93,453.11 718.04,453.11 722.14,453.12 726.24,453.12 730.35,453.12 734.45,453.13 738.56,453.13 742.66,453.13" fill="none" stroke="#e6876d" stroke-width="1.12" stroke-linejoin="round"/>
<polyline points="168.1,456.01 168.78,444.04 169.47,437.99 170.15,433.12 170.84,428.88 171.52,425.06 172.2,421.55 172.89,418.27 173.57,415.17 174.26,412.23 174.94,409.43 175.62,406.73 176.31,404.13 176.99,401.63 177.68,399.2 178.36,396.83 179.04,394.54 179.73,392.3 180.41,390.11 181.1,387.98 181.78,385.89 182.46,383.84 183.15,381.83 183.83,379.86 184.52,377.92 187.39,409.65 188.18,409.52 188.98,409.41 189.77,409.32 190.57,409.25 191.36,409.2 191.9,409.2 192.16,409.2 192.95,409.23 193.75,409.31 194.54,409.42 195.34,409.56 196.13,409.72 196.93,409.9 197.72,410.1 198.52,410.31 199.31,410.52 200.11,410.73 200.9,410.94 201.7,411.13 202.49,411.32 203.29,411.48 204.08,411.62 204.87,411.72 205.67,411.8 206.46,411.83 206.68,411.83 207.26,411.79 208.05,411.62 208.85,411.4 209.64,411.19 210.44,411.05 210.78,411.04 211.23,411.05 212.03,411.09 212.82,411.15 213.62,411.23 214.06,411.27 214.41,411.3 215.21,411.39 216,411.48 216.8,411.59 217.59,411.7 218.39,411.83 219.18,411.96 219.98,412.1 220.77,412.25 221.57,412.41 222.36,412.57 223.16,412.74 223.95,412.92 224.75,413.1 225.54,413.29 226.34,413.48 227.13,413.68 227.92,413.88 228.72,414.09 229.51,414.3 230.31,414.51 231.1,414.72 231.9,414.94 232.69,415.16 233.49,415.37 234.28,415.59 235.08,415.81 235.87,416.03 236.67,416.25 237.46,416.47 238.26,416.69 239.05,416.91 239.85,417.12 240.64,417.33 241.44,417.54 242.23,417.75 243.03,417.95 243.82,418.14 244.62,418.34 245.41,418.52 246.21,418.71 247,418.88 247.8,419.05 248.59,419.21 249.39,419.37 250.18,419.52 254.28,420.25 258.39,420.97 262.49,421.66 266.6,422.33 270.7,422.99 274.8,423.63 278.91,424.25 283.01,424.86 287.12,425.45 291.22,426.03 295.32,426.6 299.43,427.15 303.53,427.7 307.64,428.23 311.74,428.76 315.84,429.28 319.95,429.79 324.05,430.3 328.16,430.8 332.26,431.3 336.36,431.8 340.47,432.29 344.57,432.79 348.68,433.28 352.78,433.77 356.88,434.25 360.99,434.73 365.09,435.2 369.2,435.67 373.3,436.12 377.4,436.57 381.51,437 385.61,437.42 389.72,437.82 393.82,438.21 397.92,438.58 402.03,438.94 406.13,439.28 410.24,439.59 414.34,439.89 418.44,440.17 422.55,440.43 426.65,440.69 430.76,440.93 434.86,441.16 438.96,441.39 443.07,441.6 447.17,441.81 451.28,442.01 455.38,442.21 459.48,442.41 463.59,442.6 467.69,442.79 471.8,442.98 475.9,443.17 480,443.36 484.11,443.56 488.21,443.76 492.32,443.96 496.42,444.17 500.52,444.38 504.63,444.6 508.73,444.81 512.84,445.02 516.94,445.24 521.04,445.45 525.15,445.66 529.25,445.87 533.36,446.09 537.46,446.3 541.56,446.51 545.67,446.72 549.77,446.94 553.88,447.15 557.98,447.36 562.08,447.57 566.19,447.78 570.29,448 574.4,448.21 578.5,448.42 582.6,448.63 586.71,448.83 590.81,449.03 594.92,449.23 599.02,449.43 603.12,449.63 607.23,449.85 611.33,450.07 615.44,450.3 619.54,450.55 623.64,450.82 627.75,451.12 631.85,451.44 635.96,451.76 636.37,451.79 640.06,452.11 644.16,452.45 646.63,452.58 648.27,452.63 652.37,452.73 656.48,452.8 658.94,452.82 660.58,452.84 664.68,452.87 668.79,452.89 672.89,452.92 677,452.94 681.1,452.97 685.2,452.99 689.31,453.01 693.41,453.02 697.52,453.04 701.62,453.06 705.72,453.07 709.83,453.08 713.93,453.09 718.04,453.1 722.14,453.11 726.24,453.12 730.35,453.12 734.45,453.12 738.56,453.13 742.66,453.13" fill="none" stroke="#cd5649" stroke-width="1.12" stroke-linejoin="round"/>
<polyline points="168.1,456.01 168.78,443.51 169.47,437.06 170.15,431.84 170.84,427.29 171.52,423.17 172.2,419.38 172.89,415.83 173.57,412.48 174.26,409.29 174.94,406.24 175.62,403.31 176.31,400.49 176.99,397.76 177.68,395.11 178.36,392.53 179.04,390.03 179.73,387.58 180.41,385.19 181.1,382.86 181.78,380.57 182.46,378.33 183.15,376.13 183.83,373.97 184.52,371.85 187.39,404.49 188.18,404.35 188.98,404.24 189.77,404.14 190.57,404.08 191.36,404.04 191.9,404.03 192.16,404.04 192.95,404.09 193.75,404.19 194.54,404.35 195.34,404.54 196.13,404.76 196.93,405 197.72,405.25 198.52,405.51 199.31,405.76 200.11,406 200.9,406.21 201.7,406.4 202.49,406.54 203.29,406.64 204.08,406.68 204.22,406.68 204.87,406.6 205.67,406.34 206.46,406 207.26,405.69 208.05,405.51 208.32,405.49 208.85,405.5 209.64,405.54 210.44,405.59 211.23,405.66 211.6,405.69 212.03,405.73 212.82,405.81 213.62,405.9 214.41,406 215.21,406.12 216,406.24 216.8,406.38 217.59,406.52 218.39,406.68 219.18,406.84 219.98,407.01 220.77,407.19 221.57,407.37 222.36,407.57 223.16,407.77 223.95,407.97 224.75,408.19 225.54,408.4 226.34,408.63 227.13,408.85 227.92,409.08 228.72,409.32 229.51,409.56 230.31,409.8 231.1,410.04 231.9,410.28 232.69,410.53 233.49,410.78 234.28,411.03 235.08,411.27 235.87,411.52 236.67,411.77 237.46,412.01 238.26,412.26 239.05,412.5 239.85,412.74 240.64,412.97 241.44,413.21 242.23,413.43 243.03,413.66 243.82,413.88 244.62,414.09 245.41,414.3 246.21,414.51 247,414.7 247.8,414.89 248.59,415.08 249.39,415.25 250.18,415.42 254.28,416.25 258.39,417.06 262.49,417.85 266.6,418.61 270.7,419.37 274.8,420.1 278.91,420.82 283.01,421.52 287.12,422.2 291.22,422.87 295.32,423.53 299.43,424.17 303.53,424.81 307.64,425.43 311.74,426.04 315.84,426.64 319.95,427.23 324.05,427.81 328.16,428.39 332.26,428.96 336.36,429.53 340.47,430.09 344.57,430.66 348.68,431.22 352.78,431.78 356.88,432.33 360.99,432.88 365.09,433.41 369.2,433.94 373.3,434.46 377.4,434.96 381.51,435.45 385.61,435.92 389.72,436.38 393.82,436.82 397.92,437.24 402.03,437.64 406.13,438.02 410.24,438.38 414.34,438.71 418.44,439.02 422.55,439.31 426.65,439.6 430.76,439.87 434.86,440.13 438.96,440.38 443.07,440.62 447.17,440.85 451.28,441.08 455.38,441.3 459.48,441.52 463.59,441.73 467.69,441.94 471.8,442.15 475.9,442.36 480,442.56 484.11,442.77 488.21,442.98 492.32,443.19 496.42,443.41 500.52,443.63 504.63,443.85 508.73,444.07 512.84,444.28 516.94,444.5 521.04,444.71 525.15,444.92 529.25,445.13 533.36,445.34 537.46,445.55 541.56,445.76 545.67,445.96 549.77,446.17 553.88,446.37 557.98,446.57 562.08,446.77 566.19,446.96 570.29,447.16 574.4,447.35 578.5,447.54 582.6,447.73 586.71,447.9 590.81,448.06 594.92,448.23 599.02,448.39 603.12,448.56 607.23,448.73 611.33,448.92 615.44,449.12 619.54,449.33 623.64,449.58 627.75,449.85 631.85,450.16 635.96,450.47 640.06,450.8 644.16,451.13 648.27,451.45 652.37,451.76 653.6,451.85 656.48,452.08 660.58,452.41 663.86,452.58 664.68,452.61 668.79,452.71 672.89,452.79 676.18,452.82 677,452.83 681.1,452.87 685.2,452.9 689.31,452.93 693.41,452.96 697.52,452.98 701.62,453.01 705.72,453.03 709.83,453.05 713.93,453.07 718.04,453.08 722.14,453.1 726.24,453.11 730.35,453.12 734.45,453.12 738.56,453.13 742.66,453.13" fill="none" stroke="#a80a29" stroke-width="1.12" stroke-linejoin="round"/>
<polyline points="168.1,709.23 742.66,709.23" fill="none" stroke="#3d4997" stroke-width="1.12" stroke-linejoin="round"/>
<polyline points="168.1,709.23 168.78,704.26 169.47,702.9 170.15,701.93 170.84,701.16 171.52,700.5 172.2,699.93 172.89,699.41 173.57,698.94 174.26,698.51 174.94,698.11 175.62,697.73 176.31,697.37 176.99,697.04 177.68,696.72 178.36,696.41 179.04,696.12 179.73,695.84 180.41,695.57 181.1,695.31 181.78,695.05 182.46,694.81 183.15,694.57 183.83,694.34 184.52,694.12 187.39,705.22 188.18,705.28 188.98,705.35 189.77,705.42 190.57,705.48 191.36,705.53 192.16,705.57 192.72,705.59 192.95,705.59 193.75,705.61 194.54,705.63 195.34,705.64 196.13,705.66 196.93,705.67 197.72,705.69 198.52,705.7 199.31,705.72 200.11,705.73 200.9,705.74 201.7,705.76 202.49,705.77 203.29,705.78 204.08,705.79 204.87,705.81 205.67,705.82 206.46,705.83 207.26,705.84 208.05,705.85 208.85,705.86 209.64,705.87 210.44,705.88 211.23,705.88 212.03,705.89 212.82,705.9 213.62,705.91 214.41,705.92 215.21,705.92 216,705.93 216.8,705.94 217.59,705.95 218.39,705.95 219.18,705.96 219.98,705.97 220.77,705.97 221.57,705.98 222.36,705.98 223.16,705.99 223.95,705.99 224.75,706 225.54,706.01 226.34,706.01 227.13,706.02 227.92,706.02 228.72,706.03 229.51,706.03 230.31,706.04 231.1,706.04 231.9,706.05 232.69,706.05 233.49,706.06 234.28,706.06 235.08,706.07 235.87,706.07 236.67,706.08 237.46,706.08 238.26,706.09 239.05,706.09 239.85,706.1 240.64,706.1 241.44,706.11 242.23,706.11 243.03,706.12 243.82,706.12 244.62,706.13 245.41,706.14 246.21,706.14 247,706.15 247.8,706.16 248.59,706.16 249.39,706.17 250.18,706.18 254.28,706.22 258.39,706.25 262.49,706.29 266.6,706.33 270.7,706.37 274.8,706.41 278.91,706.44 283.01,706.48 287.12,706.52 291.22,706.55 295.32,706.59 299.43,706.62 303.53,706.66 307.64,706.69 311.74,706.72 315.84,706.75 319.95,706.78 324.05,706.81 328.16,706.84 332.26,706.86 336.36,706.88 340.47,706.91 344.57,706.93 348.68,706.95 352.78,706.97 356.88,707 360.99,707.02 365.09,707.04 369.2,707.06 373.3,707.08 377.4,707.1 381.51,707.12 385.61,707.14 389.72,707.16 393.82,707.18 397.92,707.19 402.03,707.21 406.13,707.23 410.24,707.25 414.34,707.27 418.44,707.28 422.55,707.3 426.65,707.32 430.76,707.33 434.86,707.35 438.96,707.36 443.07,707.38 447.17,707.39 451.28,707.41 455.38,707.42 459.48,707.43 463.59,707.45 467.69,707.46 471.8,707.47 475.9,707.48 480,707.5 484.11,707.51 488.21,707.52 492.32,707.53 496.42,707.54 500.52,707.55 504.63,707.56 508.73,707.57 512.84,707.59 516.94,707.6 521.04,707.61 525.15,707.62 529.25,707.63 533.36,707.64 537.46,707.65 541.56,707.66 545.67,707.67 549.77,707.68 553.88,707.69 557.98,707.7 562.08,707.71 566.19,707.72 570.29,707.73 574.4,707.74 578.5,707.75 582.6,707.76 586.71,707.77 590.81,707.78 594.92,707.78 599.02,707.79 603.12,707.8 607.23,707.81 611.33,707.82 615.44,707.83 619.54,707.84 623.64,707.84 627.75,707.85 631.85,707.86 635.96,707.87 640.06,707.88 644.16,707.88 648.27,707.89 652.37,707.9 656.48,707.9 660.58,707.91 664.68,707.92 668.79,707.92 672.89,707.93 677,707.94 681.1,707.94 685.2,707.95 689.31,707.95 693.41,707.96 697.52,707.96 701.62,707.97 705.72,707.97 709.83,707.97 713.93,707.98 718.04,707.98 722.14,707.98 726.24,707.99 730.35,707.99 734.45,707.99 738.56,708 742.66,708" fill="none" stroke="#5b6fb7" stroke-width="1.12" stroke-linejoin="round"/>
<polyline points="168.1,709.23 168.78,701.16 169.47,698.58 170.15,696.71 170.84,695.18 171.52,693.87 172.2,692.71 172.89,691.66 173.57,690.7 174.26,689.8 174.94,688.97 175.62,688.18 176.31,687.43 176.99,686.72 177.68,686.05 178.36,685.4 179.04,684.78 179.73,684.18 180.41,683.6 181.1,683.04 181.78,682.49 182.46,681.97 183.15,681.45 183.83,680.96 184.52,680.47 187.39,702.76 188.18,702.55 188.98,702.34 189.77,702.14 190.57,701.96 191.36,701.82 192.16,701.74 192.72,701.72 192.95,701.72 193.75,701.72 194.54,701.74 195.34,701.75 196.13,701.78 196.93,701.8 197.72,701.84 198.52,701.87 199.31,701.91 200.11,701.96 200.9,702 201.7,702.05 202.49,702.1 203.29,702.15 204.08,702.21 204.87,702.26 205.67,702.31 206.46,702.37 207.26,702.42 208.05,702.47 208.85,702.52 209.14,702.54 209.64,702.57 210.44,702.62 211.23,702.67 212.03,702.73 212.82,702.78 213.62,702.84 214.41,702.9 215.21,702.96 216,703.02 216.8,703.09 217.59,703.15 218.39,703.22 219.18,703.28 219.98,703.35 220.77,703.42 221.57,703.48 222.36,703.55 223.16,703.61 223.95,703.68 224.75,703.75 225.54,703.81 226.34,703.87 227.13,703.94 227.92,704 228.72,704.06 229.51,704.12 229.66,704.13 230.31,704.18 231.1,704.23 231.9,704.29 232.69,704.35 233.49,704.4 234.28,704.46 235.08,704.51 235.87,704.57 236.67,704.62 237.46,704.67 238.26,704.73 239.05,704.78 239.85,704.84 240.64,704.89 241.44,704.94 242.23,705 243.03,705.05 243.82,705.11 244.62,705.16 245.41,705.22 246.08,705.27 246.21,705.28 247,705.34 247.8,705.41 248.59,705.48 249.39,705.56 250.18,705.62 252.23,705.72 254.28,705.76 258.39,705.84 262.49,705.9 266.6,705.96 270.7,706.01 274.8,706.06 278.91,706.1 283.01,706.14 287.12,706.17 291.22,706.2 295.32,706.22 299.43,706.25 303.53,706.27 307.64,706.29 311.74,706.3 315.84,706.32 319.95,706.34 324.05,706.36 328.16,706.38 332.26,706.4 336.36,706.43 340.47,706.45 344.57,706.48 348.68,706.5 352.78,706.52 356.88,706.54 360.99,706.56 365.09,706.58 369.2,706.61 373.3,706.63 377.4,706.65 381.51,706.67 385.61,706.69 389.72,706.7 393.82,706.72 397.92,706.74 402.03,706.76 406.13,706.78 410.24,706.79 414.34,706.81 418.44,706.83 422.55,706.85 426.65,706.86 430.76,706.88 434.86,706.89 438.96,706.91 443.07,706.92 447.17,706.94 451.28,706.95 455.38,706.97 459.48,706.98 463.59,706.99 467.69,707 471.8,707.02 475.9,707.03 480,707.04 484.11,707.05 488.21,707.07 492.32,707.08 496.42,707.09 500.52,707.1 504.63,707.11 508.73,707.12 512.84,707.13 516.94,707.14 521.04,707.15 525.15,707.16 529.25,707.17 533.36,707.18 537.46,707.19 541.56,707.2 545.67,707.21 549.77,707.22 553.88,707.23 557.98,707.24 562.08,707.25 566.19,707.26 570.29,707.27 574.4,707.28 578.5,707.29 582.6,707.3 586.71,707.31 590.81,707.32 594.92,707.33 599.02,707.34 603.12,707.35 607.23,707.36 611.33,707.36 615.44,707.37 619.54,707.38 623.64,707.39 627.75,707.4 631.85,707.41 635.96,707.41 640.06,707.42 644.16,707.43 648.27,707.44 652.37,707.44 656.48,707.45 660.58,707.46 664.68,707.46 668.79,707.47 672.89,707.47 677,707.48 681.1,707.49 685.2,707.49 689.31,707.5 693.41,707.5 697.52,707.51 701.62,707.51 705.72,707.51 709.83,707.52 713.93,707.52 718.04,707.53 722.14,707.53 726.24,707.53 730.35,707.54 734.45,707.54 738.56,707.54 742.66,707.54" fill="none" stroke="#7c93d0" stroke-width="1.12" stroke-linejoin="round"/>
<polyline points="168.1,709.23 168.78,698.64 169.47,694.77 170.15,691.88 170.84,689.48 171.52,687.39 172.2,685.53 172.89,683.82 173.57,682.25 174.26,680.78 174.94,679.4 175.62,678.09 176.31,676.85 176.99,675.66 177.68,674.53 178.36,673.43 179.04,672.38 179.73,671.36 180.41,670.37 181.1,669.41 181.78,668.48 182.46,667.58 183.15,666.7 183.83,665.84 184.52,665 187.39,690.16 188.18,690.02 188.98,689.86 189.77,689.7 190.57,689.58 191.36,689.5 191.9,689.48 192.16,689.48 192.95,689.48 193.75,689.48 194.54,689.49 195.34,689.49 196.13,689.5 196.93,689.5 197.72,689.51 198.52,689.52 199.31,689.53 200.11,689.55 200.9,689.56 201.7,689.57 202.49,689.59 203.29,689.6 204.08,689.62 204.87,689.64 205.67,689.66 206.46,689.68 207.26,689.7 208.05,689.72 208.85,689.74 209.64,689.77 210.44,689.79 211.23,689.82 212.03,689.84 212.82,689.87 213.62,689.9 214.41,689.93 215.21,689.96 216,689.99 216.8,690.02 217.59,690.05 218.39,690.08 219.18,690.11 219.98,690.14 220.77,690.18 221.57,690.21 222.36,690.24 223.16,690.28 223.95,690.31 224.75,690.35 225.54,690.39 226.34,690.42 227.13,690.46 227.92,690.5 228.72,690.53 229.51,690.57 230.31,690.61 231.1,690.65 231.9,690.68 232.69,690.72 233.49,690.76 234.28,690.8 235.08,690.84 235.87,690.88 236.67,690.92 237.46,690.96 238.26,691 239.05,691.03 239.85,691.07 240.64,691.11 241.44,691.15 242.23,691.19 243.03,691.23 243.82,691.27 244.62,691.31 245.41,691.35 246.21,691.38 247,691.42 247.8,691.46 248.59,691.5 249.39,691.53 250.18,691.57 254.28,691.77 258.39,691.98 262.49,692.19 266.6,692.42 270.7,692.66 274.8,692.91 278.91,693.17 283.01,693.44 287.12,693.71 291.22,694 295.32,694.29 299.43,694.59 303.53,694.9 307.64,695.21 311.74,695.53 315.84,695.86 319.95,696.19 324.05,696.52 328.16,696.87 332.26,697.21 336.36,697.58 340.47,697.96 344.57,698.37 348.68,698.8 352.78,699.25 356.88,699.71 360.99,700.17 365.09,700.65 369.2,701.13 373.3,701.61 377.4,702.09 381.51,702.56 385.61,703.03 389.72,703.48 393.82,703.92 396.49,704.2 397.92,704.36 402.03,704.83 406.13,705.19 406.75,705.22 410.24,705.37 414.34,705.5 418.44,705.58 419.06,705.59 422.55,705.61 426.65,705.65 430.76,705.68 434.86,705.71 438.96,705.74 443.07,705.77 447.17,705.8 451.28,705.83 455.38,705.86 459.48,705.89 463.59,705.92 467.69,705.95 471.8,705.97 475.9,706 480,706.03 484.11,706.05 488.21,706.07 492.32,706.1 496.42,706.12 500.52,706.14 504.63,706.17 508.73,706.19 512.84,706.21 516.94,706.23 521.04,706.25 525.15,706.27 529.25,706.29 533.36,706.31 537.46,706.33 541.56,706.34 545.67,706.36 549.77,706.38 553.88,706.39 557.98,706.41 562.08,706.43 566.19,706.44 570.29,706.46 574.4,706.47 578.5,706.48 582.6,706.5 586.71,706.51 590.81,706.52 594.92,706.53 599.02,706.54 603.12,706.56 607.23,706.57 611.33,706.58 615.44,706.59 619.54,706.6 623.64,706.6 627.75,706.61 631.85,706.62 635.96,706.63 640.06,706.64 644.16,706.64 648.27,706.65 652.37,706.66 656.48,706.66 660.58,706.67 664.68,706.68 668.79,706.68 672.89,706.69 677,706.69 681.1,706.69 685.2,706.7 689.31,706.7 693.41,706.71 697.52,706.71 701.62,706.71 705.72,706.71 709.83,706.72 713.93,706.72 718.04,706.72 722.14,706.72 726.24,706.72 730.35,706.72 734.45,706.72 738.56,706.72 742.66,706.72" fill="none" stroke="#9bb0db" stroke-width="1.12" stroke-linejoin="round"/>
<polyline points="168.1,709.23 168.78,697.32 169.47,692.39 170.15,688.6 170.84,685.41 171.52,682.6 172.2,680.06 172.89,677.72 173.57,675.55 174.26,673.51 174.94,671.57 175.62,669.74 176.31,667.98 176.99,666.3 177.68,664.67 178.36,663.11 179.04,661.6 179.73,660.13 180.41,658.71 181.1,657.33 181.78,655.98 182.46,654.66 183.15,653.38 183.83,652.12 184.52,650.89 187.39,681.61 188.18,681.46 188.98,681.3 189.77,681.15 190.57,681.02 191.36,680.94 191.9,680.92 192.16,680.93 192.95,680.93 193.75,680.93 194.54,680.94 195.34,680.95 196.13,680.97 196.93,680.98 197.72,681 198.52,681.03 199.31,681.05 200.11,681.08 200.9,681.11 201.7,681.14 202.49,681.18 203.29,681.21 204.08,681.25 204.87,681.29 205.67,681.34 206.46,681.38 207.26,681.43 208.05,681.48 208.85,681.53 209.64,681.58 210.44,681.63 211.23,681.69 212.03,681.75 212.82,681.81 213.62,681.87 214.41,681.93 215.21,681.99 216,682.05 216.8,682.12 217.59,682.19 218.39,682.25 219.18,682.32 219.98,682.39 220.77,682.46 221.57,682.53 222.36,682.6 223.16,682.68 223.95,682.75 224.75,682.82 225.54,682.9 226.34,682.97 227.13,683.05 227.92,683.12 228.72,683.2 229.51,683.27 230.31,683.35 231.1,683.42 231.9,683.5 232.69,683.57 233.49,683.65 234.28,683.72 235.08,683.8 235.87,683.87 236.67,683.94 237.46,684.02 238.26,684.09 239.05,684.16 239.85,684.23 240.64,684.3 241.44,684.37 242.23,684.44 243.03,684.51 243.82,684.58 244.62,684.64 245.41,684.71 246.21,684.77 247,684.83 247.8,684.89 248.59,684.95 249.39,685.01 250.18,685.07 254.28,685.35 258.39,685.64 262.49,685.92 266.6,686.2 270.7,686.49 274.8,686.77 278.91,687.05 283.01,687.33 287.12,687.61 291.22,687.89 295.32,688.17 299.43,688.45 303.53,688.73 307.64,689.01 311.74,689.29 315.84,689.57 319.95,689.85 324.05,690.14 328.16,690.42 332.26,690.71 336.36,690.99 340.47,691.27 344.57,691.54 348.68,691.81 352.78,692.07 356.88,692.34 360.99,692.6 365.09,692.87 369.2,693.13 373.3,693.4 377.4,693.68 381.51,693.96 385.61,694.24 389.72,694.54 393.82,694.84 397.92,695.15 402.03,695.48 406.13,695.82 410.24,696.17 414.34,696.53 418.44,696.92 422.55,697.34 426.65,697.79 430.76,698.27 434.86,698.77 438.96,699.28 443.07,699.81 447.17,700.34 451.28,700.88 455.38,701.43 459.48,701.97 463.59,702.5 467.69,703.03 471.8,703.54 475.9,704.03 480,704.58 484.11,705.07 486.16,705.22 488.21,705.31 492.32,705.46 496.42,705.56 498.47,705.59 500.52,705.61 504.63,705.65 508.73,705.69 512.84,705.73 516.94,705.77 521.04,705.81 525.15,705.84 529.25,705.88 533.36,705.91 537.46,705.95 541.56,705.98 545.67,706.01 549.77,706.05 553.88,706.08 557.98,706.11 562.08,706.14 566.19,706.16 570.29,706.19 574.4,706.22 578.5,706.25 582.6,706.27 586.71,706.3 590.81,706.32 594.92,706.34 599.02,706.36 603.12,706.39 607.23,706.41 611.33,706.43 615.44,706.45 619.54,706.46 623.64,706.48 627.75,706.5 631.85,706.52 635.96,706.53 640.06,706.55 644.16,706.56 648.27,706.58 652.37,706.59 656.48,706.6 660.58,706.61 664.68,706.62 668.79,706.63 672.89,706.64 677,706.65 681.1,706.66 685.2,706.67 689.31,706.68 693.41,706.69 697.52,706.69 701.62,706.7 705.72,706.7 709.83,706.71 713.93,706.71 718.04,706.71 722.14,706.72 726.24,706.72 730.35,706.72 734.45,706.72 738.56,706.72 742.66,706.72" fill="none" stroke="#b7c4db" stroke-width="1.12" stroke-linejoin="round"/>
<polyline points="168.1,709.23 168.78,695.52 169.47,689.58 170.15,684.97 170.84,681.05 171.52,677.59 172.2,674.44 172.89,671.54 173.57,668.83 174.26,666.28 174.94,663.86 175.62,661.55 176.31,659.35 176.99,657.23 177.68,655.18 178.36,653.21 179.04,651.3 179.73,649.44 180.41,647.64 181.1,645.88 181.78,644.17 182.46,642.5 183.15,640.86 183.83,639.27 184.52,637.7 187.39,671.73 188.18,671.59 188.98,671.43 189.77,671.27 190.57,671.15 191.36,671.07 191.9,671.05 192.16,671.05 192.95,671.06 193.75,671.07 194.54,671.09 195.34,671.11 196.13,671.14 196.93,671.17 197.72,671.21 198.52,671.26 199.31,671.31 200.11,671.37 200.9,671.43 201.7,671.49 202.49,671.57 203.29,671.64 204.08,671.72 204.87,671.8 205.67,671.89 206.46,671.98 207.26,672.08 208.05,672.18 208.85,672.28 209.64,672.39 210.44,672.5 211.23,672.61 212.03,672.72 212.82,672.84 213.62,672.96 214.41,673.09 215.21,673.21 216,673.34 216.8,673.47 217.59,673.6 218.39,673.73 219.18,673.87 219.98,674.01 220.77,674.14 221.57,674.28 222.36,674.42 223.16,674.56 223.95,674.71 224.75,674.85 225.54,674.99 226.34,675.14 227.13,675.28 227.92,675.42 228.72,675.57 229.51,675.71 230.31,675.85 231.1,675.99 231.9,676.14 232.69,676.28 233.49,676.42 234.28,676.56 235.08,676.69 235.87,676.83 236.67,676.96 237.46,677.1 238.26,677.23 239.05,677.36 239.85,677.48 240.64,677.61 241.44,677.73 242.23,677.85 243.03,677.97 243.82,678.08 244.62,678.19 245.41,678.3 246.21,678.41 247,678.51 247.8,678.61 248.59,678.7 249.39,678.79 250.18,678.88 254.28,679.31 258.39,679.72 262.49,680.12 266.6,680.5 270.7,680.88 274.8,681.24 278.91,681.6 283.01,681.94 287.12,682.28 291.22,682.62 295.32,682.95 299.43,683.28 303.53,683.6 307.64,683.93 311.74,684.25 315.84,684.58 319.95,684.91 324.05,685.25 328.16,685.58 332.26,685.93 336.36,686.28 340.47,686.63 344.57,686.98 348.68,687.33 352.78,687.68 356.88,688.03 360.99,688.38 365.09,688.73 369.2,689.08 373.3,689.43 377.4,689.78 381.51,690.13 385.61,690.47 389.72,690.82 393.82,691.16 397.92,691.5 402.03,691.84 406.13,692.18 410.24,692.51 414.34,692.85 418.44,693.17 422.55,693.49 426.65,693.79 430.76,694.09 434.86,694.38 438.96,694.67 443.07,694.96 447.17,695.25 451.28,695.53 455.38,695.82 459.48,696.11 463.59,696.41 467.69,696.72 471.8,697.04 475.9,697.36 480,697.7 484.11,698.06 488.21,698.42 492.32,698.81 496.42,699.22 500.52,699.66 504.63,700.15 508.73,700.68 512.84,701.24 516.94,701.81 521.04,702.39 525.15,702.97 529.25,703.54 531.63,703.86 533.36,704.11 537.46,704.75 541.56,705.2 541.89,705.22 545.67,705.38 549.77,705.51 553.88,705.58 554.2,705.59 557.98,705.63 562.08,705.68 566.19,705.73 570.29,705.78 574.4,705.82 578.5,705.87 582.6,705.91 586.71,705.95 590.81,705.99 594.92,706.03 599.02,706.07 603.12,706.11 607.23,706.15 611.33,706.18 615.44,706.22 619.54,706.25 623.64,706.28 627.75,706.31 631.85,706.34 635.96,706.37 640.06,706.4 644.16,706.42 648.27,706.45 652.37,706.47 656.48,706.49 660.58,706.51 664.68,706.54 668.79,706.55 672.89,706.57 677,706.59 681.1,706.61 685.2,706.62 689.31,706.64 693.41,706.65 697.52,706.66 701.62,706.67 705.72,706.68 709.83,706.69 713.93,706.7 718.04,706.71 722.14,706.71 726.24,706.72 730.35,706.72 734.45,706.72 738.56,706.72 742.66,706.72" fill="none" stroke="#dddcdc" stroke-width="1.12" stroke-linejoin="round"/>
<polyline points="168.1,709.23 168.78,694.55 169.47,687.74 170.15,682.38 170.84,677.77 171.52,673.67 172.2,669.91 172.89,666.44 173.57,663.18 174.26,660.09 174.94,657.16 175.62,654.36 176.31,651.67 176.99,649.08 177.68,646.58 178.36,644.16 179.04,641.8 179.73,639.52 180.41,637.29 181.1,635.12 181.78,633 182.46,630.93 183.15,628.9 183.83,626.91 184.52,624.96 187.39,663.86 188.18,663.71 188.98,663.55 189.77,663.4 190.57,663.28 191.36,663.2 191.9,663.18 192.16,663.18 192.95,663.19 193.75,663.2 194.54,663.22 195.34,663.24 196.13,663.28 196.93,663.32 197.72,663.36 198.52,663.41 199.31,663.47 200.11,663.53 200.9,663.6 201.7,663.67 202.49,663.75 203.29,663.83 204.08,663.92 204.87,664.02 205.67,664.11 206.46,664.22 207.26,664.32 208.05,664.43 208.85,664.55 209.64,664.67 210.44,664.79 211.23,664.92 212.03,665.05 212.82,665.18 213.62,665.31 214.41,665.45 215.21,665.59 216,665.74 216.8,665.88 217.59,666.03 218.39,666.18 219.18,666.34 219.98,666.49 220.77,666.65 221.57,666.8 222.36,666.96 223.16,667.12 223.95,667.28 224.75,667.45 225.54,667.61 226.34,667.77 227.13,667.94 227.92,668.1 228.72,668.27 229.51,668.43 230.31,668.59 231.1,668.76 231.9,668.92 232.69,669.08 233.49,669.25 234.28,669.41 235.08,669.57 235.87,669.73 236.67,669.88 237.46,670.04 238.26,670.19 239.05,670.34 239.85,670.49 240.64,670.64 241.44,670.79 242.23,670.93 243.03,671.07 243.82,671.21 244.62,671.34 245.41,671.47 246.21,671.6 247,671.73 247.8,671.85 248.59,671.97 249.39,672.08 250.18,672.19 254.28,672.74 258.39,673.28 262.49,673.81 266.6,674.33 270.7,674.85 274.8,675.36 278.91,675.86 283.01,676.35 287.12,676.84 291.22,677.32 295.32,677.79 299.43,678.26 303.53,678.73 307.64,679.19 311.74,679.66 315.84,680.11 319.95,680.57 324.05,681.02 328.16,681.47 332.26,681.93 336.36,682.38 340.47,682.83 344.57,683.29 348.68,683.74 352.78,684.19 356.88,684.64 360.99,685.09 365.09,685.54 369.2,685.98 373.3,686.41 377.4,686.85 381.51,687.27 385.61,687.69 389.72,688.1 393.82,688.5 397.92,688.89 402.03,689.27 406.13,689.64 410.24,690 414.34,690.34 418.44,690.68 422.55,690.99 426.65,691.3 430.76,691.59 434.86,691.87 438.96,692.15 443.07,692.42 447.17,692.68 451.28,692.94 455.38,693.2 459.48,693.46 463.59,693.72 467.69,693.98 471.8,694.25 475.9,694.52 480,694.8 484.11,695.09 488.21,695.39 492.32,695.7 496.42,696.03 500.52,696.37 504.63,696.73 508.73,697.1 512.84,697.48 516.94,697.88 521.04,698.28 525.15,698.69 529.25,699.1 533.36,699.52 537.46,699.95 541.56,700.37 545.67,700.8 549.77,701.23 553.88,701.65 557.98,702.07 562.08,702.48 566.19,702.89 568.12,703.08 570.29,703.31 574.4,703.77 578.38,704.08 578.5,704.09 582.6,704.26 586.71,704.39 590.69,704.45 590.81,704.45 594.92,704.48 599.02,704.51 603.12,704.53 607.23,704.56 611.33,704.58 615.44,704.6 619.54,704.63 623.64,704.65 627.75,704.67 631.85,704.69 635.96,704.7 640.06,704.72 644.16,704.74 648.27,704.75 652.37,704.77 656.48,704.78 660.58,704.79 664.68,704.8 668.79,704.82 672.89,704.83 677,704.84 681.1,704.84 685.2,704.85 689.31,704.86 693.41,704.87 697.52,704.87 701.62,704.88 705.72,704.88 709.83,704.89 713.93,704.89 718.04,704.9 722.14,704.9 726.24,704.9 730.35,704.9 734.45,704.9 738.56,704.9 742.66,704.9" fill="none" stroke="#efccba" stroke-width="1.12" stroke-linejoin="round"/>
<polyline points="168.1,709.23 168.78,693.52 169.47,685.91 170.15,679.85 170.84,674.62 171.52,669.93 172.2,665.62 172.89,661.62 173.57,657.85 174.26,654.28 174.94,650.88 175.62,647.63 176.31,644.49 176.99,641.47 177.68,638.55 178.36,635.71 179.04,632.96 179.73,630.28 180.41,627.66 181.1,625.11 181.78,622.62 182.46,620.17 183.15,617.78 183.83,615.43 184.52,613.13 187.39,655.85 188.18,655.69 188.98,655.52 189.77,655.37 190.57,655.26 191.36,655.19 191.9,655.17 192.16,655.17 192.95,655.2 193.75,655.25 194.54,655.33 195.34,655.42 196.13,655.54 196.93,655.68 197.72,655.84 198.52,656 199.31,656.18 200.11,656.37 200.9,656.57 201.7,656.77 202.49,656.97 203.29,657.17 204.08,657.38 204.87,657.57 205.67,657.76 206.46,657.94 207.26,658.11 208.05,658.27 208.85,658.41 209.64,658.54 210.44,658.64 211.23,658.72 212.03,658.78 212.82,658.81 213.24,658.81 213.62,658.81 214.41,658.78 215.21,658.73 216,658.67 216.8,658.64 217.35,658.63 217.59,658.63 218.39,658.68 219.18,658.78 219.98,658.9 220.63,659 220.77,659.02 221.57,659.14 222.36,659.27 223.16,659.41 223.95,659.56 224.75,659.72 225.54,659.89 226.34,660.07 227.13,660.25 227.92,660.44 228.72,660.64 229.51,660.84 230.31,661.05 231.1,661.27 231.9,661.49 232.69,661.71 233.49,661.93 234.28,662.16 235.08,662.39 235.87,662.62 236.67,662.85 237.46,663.08 238.26,663.31 239.05,663.54 239.85,663.77 240.64,664 241.44,664.22 242.23,664.44 243.03,664.66 243.82,664.87 244.62,665.08 245.41,665.29 246.21,665.48 247,665.68 247.8,665.86 248.59,666.04 249.39,666.21 250.18,666.37 254.28,667.15 258.39,667.91 262.49,668.65 266.6,669.35 270.7,670.04 274.8,670.7 278.91,671.35 283.01,671.98 287.12,672.59 291.22,673.19 295.32,673.77 299.43,674.34 303.53,674.91 307.64,675.46 311.74,676.01 315.84,676.56 319.95,677.11 324.05,677.65 328.16,678.19 332.26,678.74 336.36,679.29 340.47,679.84 344.57,680.39 348.68,680.95 352.78,681.49 356.88,682.04 360.99,682.58 365.09,683.11 369.2,683.64 373.3,684.16 377.4,684.67 381.51,685.16 385.61,685.65 389.72,686.12 393.82,686.58 397.92,687.02 402.03,687.45 406.13,687.86 410.24,688.25 414.34,688.61 418.44,688.96 422.55,689.3 426.65,689.61 430.76,689.92 434.86,690.21 438.96,690.5 443.07,690.77 447.17,691.04 451.28,691.3 455.38,691.56 459.48,691.82 463.59,692.07 467.69,692.32 471.8,692.58 475.9,692.83 480,693.09 484.11,693.36 488.21,693.64 492.32,693.92 496.42,694.21 500.52,694.51 504.63,694.8 508.73,695.08 512.84,695.37 516.94,695.66 521.04,695.94 525.15,696.23 529.25,696.51 533.36,696.81 537.46,697.1 541.56,697.41 545.67,697.72 549.77,698.03 553.88,698.36 557.98,698.7 562.08,699.05 566.19,699.41 570.29,699.78 574.4,700.17 578.5,700.58 582.6,701.03 586.71,701.55 590.81,702.09 594.92,702.64 595.33,702.69 599.02,703.26 603.12,703.87 605.59,704.08 607.23,704.16 611.33,704.32 615.44,704.42 617.9,704.45 619.54,704.46 623.64,704.49 627.75,704.53 631.85,704.56 635.96,704.58 640.06,704.61 644.16,704.64 648.27,704.66 652.37,704.68 656.48,704.7 660.58,704.72 664.68,704.74 668.79,704.76 672.89,704.78 677,704.79 681.1,704.81 685.2,704.82 689.31,704.83 693.41,704.84 697.52,704.85 701.62,704.86 705.72,704.87 709.83,704.88 713.93,704.88 718.04,704.89 722.14,704.89 726.24,704.9 730.35,704.9 734.45,704.9 738.56,704.9 742.66,704.9" fill="none" stroke="#f1ae93" stroke-width="1.12" stroke-linejoin="round"/>
<polyline points="168.1,709.23 168.78,692.29 169.47,683.9 170.15,677.19 170.84,671.37 171.52,666.14 172.2,661.33 172.89,656.86 173.57,652.64 174.26,648.64 174.94,644.82 175.62,641.16 176.31,637.64 176.99,634.23 177.68,630.94 178.36,627.74 179.04,624.64 179.73,621.61 180.41,618.66 181.1,615.77 181.78,612.95 182.46,610.19 183.15,607.48 183.83,604.82 184.52,602.21 187.39,647.94 188.18,647.76 188.98,647.59 189.77,647.45 190.57,647.34 191.36,647.27 191.9,647.25 192.16,647.26 192.95,647.29 193.75,647.37 194.54,647.48 195.34,647.62 196.13,647.79 196.93,647.99 197.72,648.21 198.52,648.44 199.31,648.68 200.11,648.93 200.9,649.19 201.7,649.45 202.49,649.7 203.29,649.94 204.08,650.18 204.87,650.39 205.67,650.59 206.46,650.76 207.26,650.91 208.05,651.02 208.85,651.1 209.64,651.14 209.96,651.14 210.44,651.12 211.23,651 212.03,650.84 212.82,650.67 213.62,650.55 214.06,650.53 214.41,650.54 215.21,650.6 216,650.7 216.8,650.83 217.35,650.91 217.59,650.95 218.39,651.08 219.18,651.22 219.98,651.37 220.77,651.54 221.57,651.72 222.36,651.91 223.16,652.1 223.95,652.31 224.75,652.53 225.54,652.76 226.34,652.99 227.13,653.24 227.92,653.48 228.72,653.74 229.51,654 230.31,654.26 231.1,654.53 231.9,654.81 232.69,655.08 233.49,655.36 234.28,655.64 235.08,655.92 235.87,656.21 236.67,656.49 237.46,656.77 238.26,657.05 239.05,657.33 239.85,657.61 240.64,657.88 241.44,658.15 242.23,658.42 243.03,658.68 243.82,658.94 244.62,659.19 245.41,659.43 246.21,659.67 247,659.9 247.8,660.12 248.59,660.33 249.39,660.53 250.18,660.72 254.28,661.67 258.39,662.59 262.49,663.48 266.6,664.35 270.7,665.18 274.8,666 278.91,666.79 283.01,667.56 287.12,668.31 291.22,669.05 295.32,669.76 299.43,670.47 303.53,671.16 307.64,671.83 311.74,672.5 315.84,673.16 319.95,673.81 324.05,674.46 328.16,675.1 332.26,675.74 336.36,676.38 340.47,677.01 344.57,677.65 348.68,678.28 352.78,678.9 356.88,679.52 360.99,680.13 365.09,680.74 369.2,681.33 373.3,681.91 377.4,682.48 381.51,683.04 385.61,683.58 389.72,684.1 393.82,684.61 397.92,685.1 402.03,685.56 406.13,686.01 410.24,686.44 414.34,686.84 418.44,687.22 422.55,687.58 426.65,687.93 430.76,688.26 434.86,688.58 438.96,688.89 443.07,689.19 447.17,689.48 451.28,689.77 455.38,690.04 459.48,690.32 463.59,690.59 467.69,690.86 471.8,691.13 475.9,691.4 480,691.68 484.11,691.96 488.21,692.25 492.32,692.54 496.42,692.85 500.52,693.15 504.63,693.46 508.73,693.76 512.84,694.07 516.94,694.37 521.04,694.68 525.15,694.98 529.25,695.28 533.36,695.59 537.46,695.9 541.56,696.21 545.67,696.53 549.77,696.84 553.88,697.17 557.98,697.49 562.08,697.83 566.19,698.16 570.29,698.51 574.4,698.86 578.5,699.22 582.6,699.59 586.71,699.97 590.81,700.37 594.92,700.78 599.02,701.19 603.12,701.61 607.23,702.03 611.33,702.45 615.44,702.86 617.73,703.08 619.54,703.27 623.64,703.73 627.75,704.07 627.99,704.08 631.85,704.25 635.96,704.37 640.06,704.45 640.31,704.45 644.16,704.48 648.27,704.52 652.37,704.56 656.48,704.59 660.58,704.62 664.68,704.65 668.79,704.68 672.89,704.7 677,704.73 681.1,704.75 685.2,704.77 689.31,704.79 693.41,704.81 697.52,704.82 701.62,704.84 705.72,704.85 709.83,704.86 713.93,704.87 718.04,704.88 722.14,704.89 726.24,704.89 730.35,704.9 734.45,704.9 738.56,704.9 742.66,704.9" fill="none" stroke="#e6876d" stroke-width="1.12" stroke-linejoin="round"/>
<polyline points="168.1,709.23 168.78,691.28 169.47,682.21 170.15,674.91 170.84,668.57 171.52,662.84 172.2,657.58 172.89,652.66 173.57,648.02 174.26,643.62 174.94,639.41 175.62,635.37 176.31,631.48 176.99,627.72 177.68,624.08 178.36,620.54 179.04,617.1 179.73,613.74 180.41,610.47 181.1,607.27 181.78,604.14 182.46,601.07 183.15,598.06 183.83,595.1 184.52,592.2 187.39,639.75 188.18,639.56 188.98,639.39 189.77,639.25 190.57,639.14 191.36,639.08 191.9,639.07 192.16,639.07 192.95,639.12 193.75,639.23 194.54,639.4 195.34,639.61 196.13,639.85 196.93,640.12 197.72,640.42 198.52,640.73 199.31,641.05 200.11,641.37 200.9,641.68 201.7,641.97 202.49,642.24 203.29,642.49 204.08,642.69 204.87,642.85 205.67,642.96 206.46,643.01 206.68,643.02 207.26,642.95 208.05,642.7 208.85,642.37 209.64,642.05 210.44,641.85 210.78,641.83 211.23,641.84 212.03,641.9 212.82,642 213.62,642.11 214.06,642.18 214.41,642.23 215.21,642.35 216,642.5 216.8,642.65 217.59,642.83 218.39,643.01 219.18,643.21 219.98,643.42 220.77,643.65 221.57,643.88 222.36,644.13 223.16,644.38 223.95,644.65 224.75,644.92 225.54,645.2 226.34,645.49 227.13,645.79 227.92,646.09 228.72,646.4 229.51,646.71 230.31,647.03 231.1,647.35 231.9,647.67 232.69,648 233.49,648.33 234.28,648.65 235.08,648.98 235.87,649.31 236.67,649.64 237.46,649.97 238.26,650.3 239.05,650.62 239.85,650.94 240.64,651.26 241.44,651.57 242.23,651.88 243.03,652.18 243.82,652.48 244.62,652.76 245.41,653.04 246.21,653.32 247,653.58 247.8,653.84 248.59,654.08 249.39,654.31 250.18,654.53 254.28,655.64 258.39,656.71 262.49,657.74 266.6,658.75 270.7,659.74 274.8,660.69 278.91,661.63 283.01,662.54 287.12,663.43 291.22,664.29 295.32,665.14 299.43,665.98 303.53,666.79 307.64,667.59 311.74,668.38 315.84,669.16 319.95,669.93 324.05,670.69 328.16,671.44 332.26,672.19 336.36,672.93 340.47,673.68 344.57,674.42 348.68,675.16 352.78,675.89 356.88,676.62 360.99,677.34 365.09,678.04 369.2,678.74 373.3,679.42 377.4,680.08 381.51,680.73 385.61,681.36 389.72,681.96 393.82,682.55 397.92,683.11 402.03,683.64 406.13,684.15 410.24,684.62 414.34,685.07 418.44,685.48 422.55,685.88 426.65,686.26 430.76,686.62 434.86,686.97 438.96,687.31 443.07,687.63 447.17,687.94 451.28,688.25 455.38,688.54 459.48,688.84 463.59,689.12 467.69,689.41 471.8,689.7 475.9,689.98 480,690.27 484.11,690.56 488.21,690.86 492.32,691.17 496.42,691.48 500.52,691.8 504.63,692.12 508.73,692.44 512.84,692.76 516.94,693.08 521.04,693.4 525.15,693.71 529.25,694.03 533.36,694.35 537.46,694.67 541.56,694.99 545.67,695.31 549.77,695.62 553.88,695.94 557.98,696.26 562.08,696.58 566.19,696.9 570.29,697.21 574.4,697.53 578.5,697.85 582.6,698.16 586.71,698.47 590.81,698.77 594.92,699.06 599.02,699.36 603.12,699.67 607.23,699.98 611.33,700.32 615.44,700.66 619.54,701.04 623.64,701.45 627.75,701.9 631.85,702.38 635.96,702.85 636.37,702.9 640.06,703.38 644.16,703.89 646.63,704.08 648.27,704.16 652.37,704.31 656.48,704.41 658.94,704.45 660.58,704.47 664.68,704.51 668.79,704.55 672.89,704.59 677,704.63 681.1,704.66 685.2,704.69 689.31,704.72 693.41,704.75 697.52,704.77 701.62,704.8 705.72,704.82 709.83,704.84 713.93,704.85 718.04,704.87 722.14,704.88 726.24,704.89 730.35,704.89 734.45,704.9 738.56,704.9 742.66,704.9" fill="none" stroke="#cd5649" stroke-width="1.12" stroke-linejoin="round"/>
<polyline points="168.1,709.23 168.78,690.49 169.47,680.83 170.15,673.01 170.84,666.18 171.52,660.02 172.2,654.33 172.89,649.01 173.57,643.98 174.26,639.21 174.94,634.64 175.62,630.25 176.31,626.01 176.99,621.92 177.68,617.95 178.36,614.09 179.04,610.34 179.73,606.67 180.41,603.1 181.1,599.6 181.78,596.17 182.46,592.81 183.15,589.52 183.83,586.28 184.52,583.1 187.39,632.01 188.18,631.81 188.98,631.63 189.77,631.49 190.57,631.4 191.36,631.34 191.9,631.33 192.16,631.34 192.95,631.41 193.75,631.57 194.54,631.8 195.34,632.08 196.13,632.41 196.93,632.77 197.72,633.15 198.52,633.54 199.31,633.91 200.11,634.27 200.9,634.59 201.7,634.87 202.49,635.09 203.29,635.24 204.08,635.3 204.22,635.3 204.87,635.18 205.67,634.79 206.46,634.28 207.26,633.81 208.05,633.54 208.32,633.52 208.85,633.53 209.64,633.58 210.44,633.67 211.23,633.77 211.6,633.82 212.03,633.87 212.82,633.99 213.62,634.13 214.41,634.28 215.21,634.45 216,634.64 216.8,634.84 217.59,635.06 218.39,635.29 219.18,635.53 219.98,635.79 220.77,636.06 221.57,636.34 222.36,636.63 223.16,636.93 223.95,637.23 224.75,637.55 225.54,637.88 226.34,638.21 227.13,638.55 227.92,638.9 228.72,639.25 229.51,639.61 230.31,639.97 231.1,640.33 231.9,640.7 232.69,641.07 233.49,641.44 234.28,641.81 235.08,642.18 235.87,642.55 236.67,642.92 237.46,643.29 238.26,643.65 239.05,644.01 239.85,644.37 240.64,644.73 241.44,645.08 242.23,645.42 243.03,645.76 243.82,646.09 244.62,646.41 245.41,646.72 246.21,647.03 247,647.32 247.8,647.61 248.59,647.88 249.39,648.14 250.18,648.39 254.28,649.63 258.39,650.85 262.49,652.03 266.6,653.18 270.7,654.31 274.8,655.4 278.91,656.48 283.01,657.53 287.12,658.56 291.22,659.56 295.32,660.55 299.43,661.51 303.53,662.46 307.64,663.39 311.74,664.31 315.84,665.21 319.95,666.09 324.05,666.97 328.16,667.83 332.26,668.69 336.36,669.54 340.47,670.38 344.57,671.23 348.68,672.07 352.78,672.91 356.88,673.74 360.99,674.55 365.09,675.36 369.2,676.15 373.3,676.92 377.4,677.68 381.51,678.41 385.61,679.12 389.72,679.81 393.82,680.47 397.92,681.1 402.03,681.7 406.13,682.26 410.24,682.8 414.34,683.29 418.44,683.76 422.55,684.2 426.65,684.62 430.76,685.03 434.86,685.42 438.96,685.8 443.07,686.16 447.17,686.51 451.28,686.85 455.38,687.18 459.48,687.51 463.59,687.82 467.69,688.14 471.8,688.45 475.9,688.76 480,689.07 484.11,689.38 488.21,689.7 492.32,690.02 496.42,690.34 500.52,690.67 504.63,691 508.73,691.32 512.84,691.65 516.94,691.97 521.04,692.29 525.15,692.61 529.25,692.92 533.36,693.24 537.46,693.55 541.56,693.86 545.67,694.16 549.77,694.47 553.88,694.77 557.98,695.07 562.08,695.37 566.19,695.66 570.29,695.96 574.4,696.24 578.5,696.53 582.6,696.81 586.71,697.07 590.81,697.32 594.92,697.56 599.02,697.8 603.12,698.05 607.23,698.32 611.33,698.59 615.44,698.89 619.54,699.22 623.64,699.58 627.75,700 631.85,700.45 635.96,700.93 640.06,701.42 644.16,701.91 648.27,702.39 652.37,702.86 653.6,703 656.48,703.34 660.58,703.83 663.86,704.08 664.68,704.12 668.79,704.28 672.89,704.39 676.18,704.45 677,704.46 681.1,704.51 685.2,704.56 689.31,704.6 693.41,704.65 697.52,704.69 701.62,704.72 705.72,704.76 709.83,704.79 713.93,704.81 718.04,704.84 722.14,704.86 726.24,704.87 730.35,704.89 734.45,704.9 738.56,704.9 742.66,704.9" fill="none" stroke="#a80a29" stroke-width="1.12" stroke-linejoin="round"/>
<polyline points="168.1,997.3 742.66,997.3" fill="none" stroke="#3d4997" stroke-width="1.12" stroke-linejoin="round"/>
<polyline points="168.1,997.3 168.72,1004.3 169.74,1007 170.97,1007.3 184.52,1004.7 185.54,1004.3 188.21,984.4 197.61,984.9 207,985.39 216.4,985.88 225.8,986.39 235.2,986.9 244.59,987.42 253.99,987.93 263.39,988.42 272.79,988.87 282.18,989.28 291.58,989.65 300.98,989.95 310.38,990.22 319.77,990.48 329.17,990.73 338.57,990.98 347.97,991.22 357.36,991.45 366.76,991.67 376.16,991.89 385.56,992.09 394.95,992.29 404.35,992.48 413.75,992.67 423.15,992.84 432.54,993.01 441.94,993.17 451.34,993.33 460.74,993.47 470.13,993.61 479.53,993.74 488.93,993.86 498.33,993.98 507.72,994.08 517.12,994.18 526.52,994.27 535.92,994.36 545.31,994.45 554.71,994.53 564.11,994.62 573.51,994.7 582.9,994.78 592.3,994.86 601.7,994.94 611.1,995.01 620.49,995.08 629.89,995.15 639.29,995.22 648.69,995.28 658.08,995.34 667.48,995.39 676.88,995.43 686.28,995.48 695.67,995.51 705.07,995.54 714.47,995.57 723.87,995.59 733.26,995.6 742.66,995.6" fill="none" stroke="#5b6fb7" stroke-width="1.12" stroke-linejoin="round"/>
<polyline points="168.1,997.3 168.72,1007.31 169.74,1011.17 170.97,1011.6 184.52,1007.88 185.54,1007.31 186.5,996 186.71,967.53 186.92,941.03 187.13,919.03 187.34,904.07 187.55,898.41 187.75,896.45 187.96,894.95 188.17,893.81 188.38,892.92 188.59,892.19 188.8,891.5 188.8,891.5 189.31,889.97 189.83,888.76 190.34,887.79 190.85,886.96 191.37,886.19 191.88,885.46 192.39,884.76 192.91,884.11 193.42,883.51 193.93,882.96 194.45,882.49 194.96,882.08 195.47,881.75 195.99,881.5 196.5,881.31 197.02,881.12 197.53,880.93 198.04,880.76 198.56,880.59 199.07,880.43 199.58,880.29 200.1,880.15 200.61,880.02 201.12,879.9 201.64,879.79 202.15,879.7 202.66,879.62 203.18,879.55 203.69,879.49 204.2,879.45 204.72,879.42 205.23,879.4 205.74,879.4 206.26,879.41 206.77,879.42 207.28,879.45 207.8,879.48 208.31,879.51 208.82,879.56 209.34,879.61 209.85,879.67 210.36,879.73 210.88,879.8 211.39,879.88 211.91,879.96 212.42,880.05 212.93,880.14 213.45,880.24 213.96,880.35 214.47,880.46 214.99,880.57 215.5,880.69 216.01,880.81 216.53,880.94 217.04,881.07 217.55,881.21 218.07,881.35 218.58,881.49 219.09,881.64 219.61,881.78 220.12,881.94 220.63,882.09 221.15,882.25 221.66,882.41 222.17,882.57 222.69,882.74 223.2,882.9 223.71,883.07 224.23,883.27 224.74,883.48 225.25,883.73 225.77,883.99 226.28,884.28 226.79,884.59 227.31,884.92 227.82,885.27 228.34,885.63 228.85,886.01 229.36,886.4 229.88,886.81 230.39,887.23 230.9,887.66 231.42,888.1 231.93,888.54 232.44,889 232.96,889.46 233.47,889.92 233.98,890.38 234.5,890.85 235.01,891.32 235.52,891.8 236.04,892.28 236.55,892.78 237.06,893.3 237.58,893.85 238.09,894.41 238.6,895.02 239.12,895.65 239.63,896.32 240.14,897.04 240.66,897.81 241.17,898.62 241.68,899.49 242.2,900.42 242.71,901.42 243.23,902.57 243.74,903.88 244.25,905.39 244.77,907.1 245.28,909.05 245.79,911.25 246.31,913.71 246.82,916.5 247.33,920.46 247.85,925.62 248.36,931.57 248.87,937.93 249.39,945.38 249.9,953.9 253.21,955.87 256.51,957.74 259.82,959.5 263.13,961.12 266.44,962.63 269.74,964.06 273.05,965.16 276.36,966.12 279.66,967.01 282.97,967.83 286.28,968.58 289.59,969.27 292.89,969.89 296.2,970.49 299.51,971.06 302.81,971.63 306.12,972.18 309.43,972.7 312.74,973.18 316.04,973.62 319.35,974.04 322.66,974.45 325.96,974.83 329.27,975.2 332.58,975.56 335.88,975.92 339.19,976.26 342.5,976.59 345.81,976.91 349.11,977.21 352.42,977.49 355.73,977.77 359.03,978.03 362.34,978.28 365.65,978.52 368.96,978.74 372.26,978.95 375.57,979.15 378.88,979.34 382.18,979.52 385.49,979.69 388.8,979.86 392.11,980.02 395.41,980.18 398.72,980.33 402.03,980.48 405.33,980.63 408.64,980.77 411.95,980.91 415.26,981.05 418.56,981.18 421.87,981.32 425.18,981.45 428.48,981.57 431.79,981.7 435.1,981.82 438.41,981.93 441.71,982.05 445.02,982.16 448.33,982.28 451.63,982.39 454.94,982.49 458.25,982.6 461.56,982.71 464.86,982.81 468.17,982.91 471.48,983.01 474.78,983.11 478.09,983.21 481.4,983.3 484.71,983.4 488.01,983.49 491.32,983.57 494.63,983.66 497.93,983.75 501.24,983.83 504.55,983.91 507.85,983.99 511.16,984.07 514.47,984.14 517.78,984.22 521.08,984.29 524.39,984.37 527.7,984.44 531,984.51 534.31,984.58 537.62,984.65 540.93,984.72 544.23,984.79 547.54,984.86 550.85,984.93 554.15,985 557.46,985.07 560.77,985.13 564.08,985.2 567.38,985.27 570.69,985.34 574,985.41 577.3,985.48 580.61,985.55 583.92,985.62 587.23,985.69 590.53,985.76 593.84,985.83 597.15,985.9 600.45,985.97 603.76,986.04 607.07,986.11 610.38,986.18 613.68,986.25 616.99,986.32 620.3,986.39 623.6,986.46 626.91,986.53 630.22,986.6 633.53,986.66 636.83,986.73 640.14,986.8 643.45,986.87 646.75,986.93 650.06,987 653.37,987.06 656.68,987.13 659.98,987.19 663.29,987.26 666.6,987.32 669.9,987.39 673.21,987.45 676.52,987.51 679.82,987.57 683.13,987.64 686.44,987.7 689.75,987.76 693.05,987.82 696.36,987.88 699.67,987.94 702.97,988.01 706.28,988.07 709.59,988.13 712.9,988.18 716.2,988.24 719.51,988.3 722.82,988.36 726.12,988.42 729.43,988.48 732.74,988.53 736.05,988.59 739.35,988.65 742.66,988.7" fill="none" stroke="#7c93d0" stroke-width="1.12" stroke-linejoin="round"/>
<polyline points="168.1,997.3 168.72,1009.25 169.74,1013.87 170.97,1014.38 184.52,1009.94 185.54,1009.25 186.49,899.67 187.01,890.25 187.53,881.7 188.06,875.8 188.58,873.13 189.1,871.08 189.62,869.38 190.15,867.99 190.67,866.82 191.19,865.83 191.72,864.93 192.24,864.07 192.76,863.18 193.29,862.29 193.81,861.42 194.33,860.59 194.86,859.8 195.38,859.04 195.9,858.33 196.42,857.66 196.95,857.04 197.47,856.47 197.99,855.95 198.52,855.49 199.04,855.08 199.56,854.73 200.09,854.39 200.61,854.07 201.13,853.75 201.66,853.45 202.18,853.16 202.7,852.88 203.22,852.61 203.75,852.36 204.27,852.11 204.79,851.88 205.32,851.66 205.84,851.45 206.36,851.25 206.89,851.07 207.41,850.89 207.93,850.73 208.46,850.58 208.98,850.44 209.5,850.32 210.02,850.2 210.55,850.1 211.07,850.01 211.59,849.94 212.12,849.87 212.64,849.82 213.16,849.77 213.69,849.73 214.21,849.69 214.73,849.65 215.26,849.62 215.78,849.59 216.3,849.56 216.82,849.54 217.35,849.52 219.55,849.46 221.75,849.45 223.95,849.47 226.15,849.51 228.35,849.57 230.55,849.63 232.75,849.69 234.95,849.75 237.15,849.8 239.35,849.86 241.55,849.91 243.75,849.97 245.95,850.03 248.15,850.09 250.35,850.15 252.55,850.21 254.75,850.28 256.95,850.35 259.15,850.42 261.35,850.5 263.55,850.59 265.75,850.68 267.95,850.78 270.15,850.88 272.35,850.99 274.55,851.12 276.75,851.25 278.95,851.4 281.15,851.57 283.35,851.75 285.55,851.95 287.75,852.17 289.95,852.41 292.15,852.67 294.35,852.95 296.55,853.26 298.75,853.6 300.95,853.96 303.15,854.33 305.35,854.72 307.55,855.12 309.75,855.53 311.95,855.96 314.15,856.4 316.35,856.89 318.55,857.41 320.75,857.97 322.95,858.56 325.15,859.18 327.35,859.82 329.55,860.47 331.75,861.14 333.95,861.82 336.15,862.49 338.35,863.17 340.55,863.85 342.75,864.55 344.95,865.25 347.15,865.98 349.35,866.71 351.55,867.47 353.75,868.24 355.95,869.02 358.15,869.83 360.35,870.65 362.55,871.49 364.75,872.35 366.95,873.22 369.15,874.12 371.35,875.04 373.55,875.99 375.75,876.98 377.95,878.01 380.15,879.08 382.35,880.2 384.55,881.37 386.75,882.58 388.95,883.87 391.15,885.28 392.99,886.56 394.66,887.85 396.18,889.01 397.56,890.14 398.82,891.28 399.97,892.45 401.01,893.63 401.97,894.8 402.83,895.96 403.62,897.11 404.34,898.27 405,899.45 405.59,900.66 406.14,901.88 406.63,903.11 407.08,904.33 407.49,905.57 407.87,906.89 408.21,908.26 408.52,909.67 408.8,911.11 409.05,912.55 409.29,913.99 409.5,915.41 409.69,916.82 409.87,918.41 410.03,920.11 410.18,921.84 410.31,923.54 410.43,925.16 410.54,926.7 410.65,928.12 410.74,929.44 410.82,930.65 410.9,931.74 410.97,932.72 411.03,933.64 411.09,934.55 411.14,935.45 411.19,936.37 411.23,937.3 411.27,938.24 411.31,939.22 411.34,940.25 411.37,941.28 411.4,942.3 411.42,943.29 411.44,944.23 411.46,945.13 411.48,945.98 411.5,946.78 411.51,947.52 411.53,948.21 411.54,948.85 411.55,949.44 411.56,949.99 411.57,950.49 411.58,950.96 411.59,951.38 411.67,955.9 415.02,957.4 418.36,959 421.7,960.47 425.05,961.81 428.39,963.05 431.73,964.19 435.08,965.24 438.42,966.2 441.76,967.09 445.11,967.91 448.45,968.67 451.79,969.35 455.14,969.98 458.48,970.58 461.82,971.16 465.17,971.73 468.51,972.28 471.85,972.8 475.2,973.27 478.54,973.72 481.88,974.14 485.23,974.54 488.57,974.93 491.91,975.3 495.26,975.66 498.6,976.02 501.94,976.36 505.29,976.69 508.63,977 511.97,977.3 515.31,977.59 518.66,977.86 522,978.12 525.34,978.37 528.69,978.61 532.03,978.83 535.37,979.03 538.72,979.23 542.06,979.42 545.4,979.6 548.75,979.77 552.09,979.94 555.43,980.1 558.78,980.26 562.12,980.41 565.46,980.56 568.81,980.7 572.15,980.85 575.49,980.99 578.84,981.12 582.18,981.26 585.52,981.39 588.87,981.52 592.21,981.65 595.55,981.77 598.9,981.89 602.24,982.01 605.58,982.12 608.93,982.24 612.27,982.35 615.61,982.46 618.96,982.57 622.3,982.67 625.64,982.78 628.99,982.88 632.33,982.99 635.67,983.09 639.02,983.18 642.36,983.28 645.7,983.37 649.05,983.47 652.39,983.56 655.73,983.64 659.08,983.73 662.42,983.81 665.76,983.9 669.11,983.98 672.45,984.05 675.79,984.13 679.14,984.21 682.48,984.28 685.82,984.36 689.17,984.43 692.51,984.5 695.85,984.58 699.2,984.65 702.54,984.72 705.88,984.79 709.23,984.86 712.57,984.93 715.91,985 719.26,985.07 722.6,985.14 725.94,985.21 729.29,985.27 732.63,985.34 735.97,985.41 739.32,985.49 742.66,985.56" fill="none" stroke="#9bb0db" stroke-width="1.12" stroke-linejoin="round"/>
<polyline points="168.1,997.3 168.72,1010.69 169.74,1015.86 170.97,1016.44 184.52,1011.46 185.54,1010.69 186.49,888.73 187.01,879.02 187.53,870.6 188.06,865.23 188.58,862.32 189.1,860.04 189.62,858.2 190.15,856.7 190.67,855.47 191.19,854.41 191.72,853.46 192.24,852.59 192.76,851.74 193.29,850.91 193.81,850.12 194.33,849.34 194.86,848.59 195.38,847.87 195.9,847.19 196.42,846.54 196.95,845.93 197.47,845.37 197.99,844.85 198.52,844.4 199.04,844 199.56,843.67 200.09,843.35 200.61,843.04 201.13,842.74 201.66,842.45 202.18,842.18 202.7,841.91 203.22,841.66 203.75,841.42 204.27,841.2 204.79,840.99 205.32,840.8 205.84,840.63 206.36,840.47 206.89,840.33 207.41,840.21 207.93,840.1 208.46,840 208.98,839.9 209.5,839.81 210.02,839.73 210.55,839.66 211.07,839.59 211.59,839.53 212.12,839.48 212.64,839.43 213.16,839.39 213.69,839.35 214.21,839.32 214.73,839.28 215.26,839.25 215.78,839.22 216.3,839.19 216.82,839.16 217.35,839.13 220.55,839.01 223.76,838.94 226.96,838.9 230.17,838.88 233.37,838.86 236.58,838.84 239.78,838.82 242.99,838.8 246.2,838.8 249.4,838.81 252.61,838.83 255.81,838.88 259.02,838.94 262.22,839.03 265.43,839.14 268.63,839.27 271.84,839.42 275.04,839.59 278.25,839.79 281.45,840.01 284.66,840.25 287.86,840.53 291.07,840.82 294.27,841.15 297.48,841.5 300.69,841.88 303.89,842.27 307.1,842.66 310.3,843.06 313.51,843.46 316.71,843.87 319.92,844.28 323.12,844.69 326.33,845.1 329.53,845.52 332.74,845.93 335.94,846.35 339.15,846.76 342.35,847.17 345.56,847.58 348.76,847.99 351.97,848.4 355.17,848.82 358.38,849.24 361.59,849.67 364.79,850.1 368,850.56 371.2,851.02 374.41,851.51 377.61,852.01 380.82,852.54 384.02,853.09 387.23,853.67 390.43,854.27 393.64,854.92 396.84,855.64 400.05,856.44 403.25,857.31 406.46,858.23 409.66,859.19 412.87,860.17 416.08,861.15 419.28,862.14 422.49,863.15 425.69,864.19 428.9,865.26 432.1,866.36 435.31,867.5 438.51,868.68 441.72,869.89 444.92,871.15 448.13,872.44 451.33,873.78 454.54,875.2 457.74,876.69 460.95,878.28 464.15,879.97 467.36,881.77 470.56,883.78 472.4,885.06 474.07,886.35 475.59,887.6 476.97,888.85 478.23,890.11 479.38,891.38 480.43,892.65 481.38,893.92 482.25,895.15 483.04,896.37 483.75,897.6 484.41,898.84 485.01,900.1 485.55,901.37 486.04,902.65 486.49,903.91 486.9,905.19 487.28,906.54 487.62,907.94 487.93,909.38 488.21,910.84 488.47,912.31 488.7,913.77 488.91,915.21 489.11,916.64 489.28,918.24 489.44,919.96 489.59,921.7 489.72,923.41 489.85,925.05 489.96,926.59 490.06,928.03 490.15,929.36 490.23,930.57 490.31,931.67 490.38,932.66 490.44,933.58 490.5,934.49 490.55,935.4 490.6,936.33 490.64,937.26 490.68,938.2 490.72,939.19 490.75,940.22 490.78,941.25 490.81,942.27 490.83,943.26 490.86,944.21 490.88,945.11 490.89,945.96 490.91,946.76 490.93,947.5 490.94,948.2 490.95,948.84 490.97,949.43 490.98,949.98 490.99,950.48 490.99,950.95 491,951.37 491.08,955.9 493.63,957 496.17,958.25 498.71,959.42 501.25,960.53 503.79,961.55 506.33,962.52 508.87,963.42 511.41,964.28 513.96,965.08 516.5,965.83 519.04,966.53 521.58,967.19 524.12,967.82 526.66,968.4 529.2,968.95 531.74,969.46 534.28,969.93 536.83,970.39 539.37,970.83 541.91,971.27 544.45,971.71 546.99,972.13 549.53,972.54 552.07,972.92 554.61,973.27 557.16,973.61 559.7,973.94 562.24,974.25 564.78,974.56 567.32,974.85 569.86,975.14 572.4,975.42 574.94,975.69 577.48,975.96 580.03,976.22 582.57,976.48 585.11,976.73 587.65,976.97 590.19,977.2 592.73,977.42 595.27,977.63 597.81,977.84 600.35,978.04 602.9,978.23 605.44,978.42 607.98,978.6 610.52,978.77 613.06,978.93 615.6,979.08 618.14,979.23 620.68,979.37 623.23,979.51 625.77,979.65 628.31,979.78 630.85,979.9 633.39,980.03 635.93,980.15 638.47,980.27 641.01,980.38 643.55,980.5 646.1,980.61 648.64,980.72 651.18,980.83 653.72,980.94 656.26,981.04 658.8,981.15 661.34,981.25 663.88,981.35 666.43,981.45 668.97,981.55 671.51,981.64 674.05,981.74 676.59,981.83 679.13,981.92 681.67,982.01 684.21,982.1 686.75,982.18 689.3,982.27 691.84,982.35 694.38,982.44 696.92,982.52 699.46,982.6 702,982.68 704.54,982.76 707.08,982.84 709.62,982.92 712.17,983 714.71,983.07 717.25,983.15 719.79,983.22 722.33,983.3 724.87,983.37 727.41,983.44 729.95,983.51 732.5,983.57 735.04,983.64 737.58,983.71 740.12,983.77 742.66,983.83" fill="none" stroke="#b7c4db" stroke-width="1.12" stroke-linejoin="round"/>
<polyline points="168.1,997.3 168.72,1011.84 169.74,1017.45 170.97,1018.07 184.52,1012.67 185.54,1011.84 186.49,883.08 187.01,873.2 187.53,864.89 188.06,859.87 188.58,856.83 189.1,854.42 189.62,852.5 190.15,850.96 190.67,849.7 191.19,848.61 191.72,847.66 192.24,846.8 192.76,845.99 193.29,845.22 193.81,844.48 194.33,843.77 194.86,843.06 195.38,842.38 195.9,841.73 196.42,841.11 196.95,840.52 197.47,839.99 197.99,839.5 198.52,839.07 199.04,838.69 199.56,838.39 200.09,838.1 200.61,837.82 201.13,837.55 201.66,837.29 202.18,837.04 202.7,836.8 203.22,836.57 203.75,836.37 204.27,836.17 204.79,836 205.32,835.84 205.84,835.71 206.36,835.6 206.89,835.51 207.41,835.44 207.93,835.38 208.46,835.32 208.98,835.27 209.5,835.22 210.02,835.18 210.55,835.14 211.07,835.11 211.59,835.08 212.12,835.05 212.64,835.03 213.16,835.01 213.69,834.99 214.21,834.97 214.73,834.95 215.26,834.94 215.78,834.93 216.3,834.91 216.82,834.9 217.35,834.89 221.26,834.83 225.17,834.81 229.08,834.81 232.99,834.81 236.9,834.81 240.81,834.81 244.72,834.81 248.63,834.81 252.54,834.82 256.46,834.84 260.37,834.87 264.28,834.91 268.19,834.96 272.1,835.02 276.01,835.11 279.92,835.21 283.83,835.33 287.74,835.47 291.65,835.63 295.56,835.82 299.47,836.03 303.38,836.27 307.3,836.53 311.21,836.82 315.12,837.12 319.03,837.45 322.94,837.79 326.85,838.16 330.76,838.54 334.67,838.93 338.58,839.34 342.49,839.77 346.4,840.21 350.31,840.66 354.22,841.12 358.13,841.59 362.05,842.06 365.96,842.55 369.87,843.04 373.78,843.54 377.69,844.04 381.6,844.54 385.51,845.05 389.42,845.55 393.33,846.06 397.24,846.56 401.15,847.07 405.06,847.57 408.97,848.07 412.89,848.58 416.8,849.1 420.71,849.63 424.62,850.18 428.53,850.76 432.44,851.37 436.35,852 440.26,852.68 444.17,853.39 448.08,854.15 451.99,855 455.9,855.97 459.81,857.04 463.73,858.18 467.64,859.37 471.55,860.57 475.46,861.78 479.37,863.02 483.28,864.3 487.19,865.64 491.1,867.02 495.01,868.47 498.92,869.97 502.83,871.52 506.74,873.15 510.65,874.87 514.56,876.72 518.48,878.72 522.39,880.86 526.3,883.28 528.13,884.56 529.8,885.85 531.32,887.13 532.7,888.42 533.97,889.72 535.11,891.03 536.16,892.33 537.11,893.62 537.98,894.88 538.77,896.13 539.49,897.37 540.14,898.64 540.74,899.91 541.28,901.2 541.78,902.49 542.23,903.77 542.64,905.06 543.01,906.42 543.35,907.83 543.66,909.28 543.94,910.76 544.2,912.23 544.43,913.7 544.65,915.14 544.84,916.58 545.02,918.19 545.18,919.91 545.32,921.66 545.46,923.37 545.58,925.01 545.69,926.56 545.79,928 545.88,929.33 545.97,930.55 546.04,931.65 546.11,932.64 546.17,933.56 546.23,934.47 546.28,935.39 546.33,936.31 546.37,937.25 546.41,938.19 546.45,939.18 546.48,940.21 546.51,941.25 546.54,942.27 546.56,943.26 546.59,944.21 546.61,945.11 546.63,945.96 546.64,946.75 546.66,947.5 546.67,948.19 546.69,948.83 546.7,949.43 546.71,949.98 546.72,950.48 546.73,950.94 546.74,951.37 546.82,955.9 548.8,956.72 550.77,957.7 552.75,958.65 554.73,959.55 556.71,960.41 558.69,961.22 560.66,961.99 562.64,962.73 564.62,963.43 566.6,964.1 568.58,964.74 570.56,965.34 572.53,965.91 574.51,966.46 576.49,966.98 578.47,967.48 580.45,967.96 582.42,968.41 584.4,968.84 586.38,969.24 588.36,969.62 590.34,969.99 592.32,970.35 594.29,970.69 596.27,971.04 598.25,971.38 600.23,971.72 602.21,972.05 604.19,972.37 606.16,972.68 608.14,972.97 610.12,973.24 612.1,973.51 614.08,973.77 616.05,974.02 618.03,974.26 620.01,974.5 621.99,974.73 623.97,974.96 625.95,975.18 627.92,975.39 629.9,975.61 631.88,975.82 633.86,976.03 635.84,976.23 637.81,976.43 639.79,976.63 641.77,976.82 643.75,977 645.73,977.18 647.71,977.35 649.68,977.52 651.66,977.69 653.64,977.85 655.62,978 657.6,978.15 659.58,978.3 661.55,978.45 663.53,978.59 665.51,978.72 667.49,978.85 669.47,978.97 671.44,979.09 673.42,979.2 675.4,979.32 677.38,979.43 679.36,979.53 681.34,979.64 683.31,979.74 685.29,979.84 687.27,979.94 689.25,980.03 691.23,980.13 693.2,980.22 695.18,980.31 697.16,980.4 699.14,980.49 701.12,980.58 703.1,980.67 705.07,980.75 707.05,980.83 709.03,980.92 711.01,981 712.99,981.08 714.97,981.16 716.94,981.24 718.92,981.32 720.9,981.4 722.88,981.48 724.86,981.55 726.83,981.63 728.81,981.7 730.79,981.77 732.77,981.84 734.75,981.91 736.73,981.98 738.7,982.05 740.68,982.12 742.66,982.19" fill="none" stroke="#dddcdc" stroke-width="1.12" stroke-linejoin="round"/>
<polyline points="168.1,997.3 168.72,1012.79 169.74,1018.76 170.97,1019.43 184.52,1013.67 185.54,1012.79 186.49,879.69 187.01,869.71 187.53,861.48 188.06,856.67 188.58,853.55 189.1,851.07 189.62,849.11 190.15,847.54 190.67,846.27 191.19,845.18 191.72,844.22 192.24,843.37 192.76,842.59 193.29,841.86 193.81,841.16 194.33,840.48 194.86,839.81 195.38,839.16 195.9,838.53 196.42,837.93 196.95,837.37 197.47,836.85 197.99,836.38 198.52,835.97 199.04,835.62 199.56,835.33 200.09,835.07 200.61,834.81 201.13,834.56 201.66,834.32 202.18,834.09 202.7,833.88 203.22,833.67 203.75,833.49 204.27,833.32 204.79,833.17 205.32,833.05 205.84,832.94 206.36,832.86 206.89,832.8 207.41,832.77 207.93,832.75 208.46,832.73 208.98,832.71 209.5,832.69 210.02,832.68 210.55,832.67 211.07,832.66 211.59,832.65 212.12,832.64 212.64,832.64 213.16,832.64 213.69,832.64 214.21,832.64 214.73,832.64 215.26,832.64 215.78,832.64 216.3,832.64 216.82,832.64 217.35,832.65 221.72,832.69 226.09,832.75 230.47,832.82 234.84,832.88 239.21,832.94 243.58,832.99 247.96,833.05 252.33,833.11 256.7,833.17 261.07,833.23 265.45,833.3 269.82,833.38 274.19,833.47 278.56,833.56 282.94,833.67 287.31,833.8 291.68,833.94 296.05,834.1 300.43,834.27 304.8,834.46 309.17,834.65 313.54,834.86 317.92,835.07 322.29,835.29 326.66,835.51 331.04,835.75 335.41,836 339.78,836.27 344.15,836.56 348.53,836.88 352.9,837.23 357.27,837.6 361.64,838 366.02,838.41 370.39,838.85 374.76,839.31 379.13,839.79 383.51,840.28 387.88,840.78 392.25,841.3 396.62,841.83 401,842.37 405.37,842.92 409.74,843.47 414.11,844.03 418.49,844.59 422.86,845.16 427.23,845.73 431.6,846.29 435.98,846.85 440.35,847.41 444.72,847.97 449.09,848.54 453.47,849.12 457.84,849.72 462.21,850.35 466.58,851 470.96,851.69 475.33,852.43 479.7,853.21 484.08,854.05 488.45,854.99 492.82,856.09 497.19,857.3 501.57,858.59 505.94,859.93 510.31,861.27 514.68,862.64 519.06,864.07 523.43,865.55 527.8,867.1 532.17,868.72 536.55,870.41 540.92,872.18 545.29,874.04 549.66,876.05 554.04,878.23 558.41,880.59 562.78,883.28 564.61,884.56 566.28,885.85 567.8,887.13 569.19,888.42 570.45,889.72 571.6,891.03 572.64,892.33 573.6,893.62 574.46,894.88 575.25,896.13 575.97,897.37 576.63,898.64 577.22,899.91 577.77,901.2 578.26,902.49 578.71,903.77 579.12,905.06 579.49,906.42 579.83,907.83 580.14,909.28 580.43,910.76 580.68,912.23 580.92,913.7 581.13,915.14 581.32,916.58 581.5,918.19 581.66,919.91 581.81,921.66 581.94,923.37 582.06,925.01 582.17,926.56 582.27,928 582.37,929.33 582.45,930.55 582.53,931.65 582.6,932.64 582.66,933.56 582.72,934.47 582.77,935.39 582.82,936.31 582.86,937.25 582.9,938.19 582.93,939.18 582.97,940.21 583,941.25 583.02,942.27 583.05,943.26 583.07,944.21 583.09,945.11 583.11,945.96 583.13,946.75 583.14,947.5 583.16,948.19 583.17,948.83 583.18,949.43 583.19,949.98 583.2,950.48 583.21,950.94 583.22,951.37 583.3,955.9 584.91,956.53 586.52,957.34 588.13,958.13 589.74,958.88 591.35,959.61 592.96,960.31 594.57,960.98 596.18,961.62 597.79,962.23 599.4,962.83 601.01,963.4 602.62,963.94 604.23,964.47 605.84,964.98 607.45,965.46 609.06,965.92 610.67,966.37 612.28,966.8 613.89,967.22 615.5,967.62 617.1,968 618.71,968.37 620.32,968.72 621.93,969.05 623.54,969.38 625.15,969.68 626.76,969.98 628.37,970.27 629.98,970.55 631.59,970.83 633.2,971.11 634.81,971.39 636.42,971.67 638.03,971.94 639.64,972.2 641.25,972.46 642.86,972.71 644.47,972.94 646.08,973.17 647.69,973.39 649.3,973.6 650.91,973.81 652.52,974.01 654.13,974.21 655.74,974.41 657.35,974.6 658.96,974.78 660.57,974.97 662.18,975.15 663.79,975.33 665.4,975.5 667.01,975.67 668.61,975.85 670.22,976.01 671.83,976.18 673.44,976.34 675.05,976.51 676.66,976.66 678.27,976.82 679.88,976.97 681.49,977.12 683.1,977.26 684.71,977.4 686.32,977.53 687.93,977.67 689.54,977.8 691.15,977.93 692.76,978.05 694.37,978.18 695.98,978.3 697.59,978.42 699.2,978.53 700.81,978.64 702.42,978.75 704.03,978.85 705.64,978.95 707.25,979.05 708.86,979.14 710.47,979.24 712.08,979.33 713.69,979.42 715.3,979.5 716.91,979.59 718.51,979.67 720.12,979.76 721.73,979.84 723.34,979.92 724.95,980 726.56,980.07 728.17,980.15 729.78,980.23 731.39,980.3 733,980.37 734.61,980.45 736.22,980.52 737.83,980.59 739.44,980.66 741.05,980.73 742.66,980.8" fill="none" stroke="#efccba" stroke-width="1.12" stroke-linejoin="round"/>
<polyline points="168.1,997.3 168.72,1013.6 169.74,1019.89 170.97,1020.58 184.52,1014.53 185.54,1013.6 186.49,877.3 187.01,867.25 187.53,859.05 188.06,854.38 188.58,851.2 189.1,848.68 189.62,846.68 190.15,845.1 190.67,843.81 191.19,842.71 191.72,841.75 192.24,840.91 192.76,840.14 193.29,839.43 193.81,838.76 194.33,838.1 194.86,837.45 195.38,836.81 195.9,836.19 196.42,835.61 196.95,835.06 197.47,834.55 197.99,834.09 198.52,833.68 199.04,833.34 199.56,833.07 200.09,832.82 200.61,832.57 201.13,832.34 201.66,832.11 202.18,831.89 202.7,831.69 203.22,831.5 203.75,831.33 204.27,831.18 204.79,831.04 205.32,830.93 205.84,830.85 206.36,830.79 206.89,830.75 207.41,830.74 207.93,830.74 208.46,830.74 208.98,830.75 209.5,830.75 210.02,830.75 210.55,830.76 211.07,830.77 211.59,830.78 212.12,830.78 212.64,830.79 213.16,830.81 213.69,830.82 214.21,830.83 214.73,830.84 215.26,830.85 215.78,830.87 216.3,830.88 216.82,830.89 217.35,830.91 222.07,831.04 226.78,831.18 231.5,831.33 236.22,831.47 240.93,831.6 245.65,831.72 250.37,831.85 255.08,831.97 259.8,832.08 264.52,832.2 269.24,832.32 273.95,832.44 278.67,832.57 283.39,832.7 288.1,832.83 292.82,832.98 297.54,833.14 302.25,833.3 306.97,833.47 311.69,833.64 316.41,833.82 321.12,834.01 325.84,834.2 330.56,834.4 335.27,834.6 339.99,834.82 344.71,835.05 349.42,835.28 354.14,835.53 358.86,835.79 363.58,836.06 368.29,836.35 373.01,836.68 377.73,837.04 382.44,837.42 387.16,837.84 391.88,838.28 396.59,838.75 401.31,839.24 406.03,839.75 410.75,840.28 415.46,840.83 420.18,841.39 424.9,841.96 429.61,842.54 434.33,843.14 439.05,843.74 443.76,844.34 448.48,844.95 453.2,845.56 457.92,846.18 462.63,846.78 467.35,847.39 472.07,847.99 476.78,848.6 481.5,849.23 486.22,849.88 490.93,850.57 495.65,851.29 500.37,852.06 505.09,852.88 509.8,853.76 514.52,854.73 519.24,855.88 523.95,857.17 528.67,858.56 533.39,860 538.1,861.45 542.82,862.94 547.54,864.49 552.26,866.12 556.97,867.82 561.69,869.61 566.41,871.47 571.12,873.44 575.84,875.56 580.56,877.88 585.27,880.4 589.99,883.28 591.82,884.56 593.49,885.85 595.01,887.13 596.4,888.42 597.66,889.72 598.81,891.03 599.85,892.33 600.81,893.62 601.67,894.88 602.46,896.13 603.18,897.37 603.84,898.64 604.43,899.91 604.98,901.2 605.47,902.49 605.92,903.77 606.33,905.06 606.7,906.42 607.04,907.83 607.35,909.28 607.64,910.76 607.89,912.23 608.13,913.7 608.34,915.14 608.53,916.58 608.71,918.19 608.87,919.91 609.02,921.66 609.15,923.37 609.27,925.01 609.38,926.56 609.48,928 609.58,929.33 609.66,930.55 609.74,931.65 609.8,932.64 609.87,933.56 609.93,934.47 609.98,935.39 610.03,936.31 610.07,937.25 610.11,938.19 610.14,939.18 610.18,940.21 610.21,941.25 610.23,942.27 610.26,943.26 610.28,944.21 610.3,945.11 610.32,945.96 610.34,946.75 610.35,947.5 610.37,948.19 610.38,948.83 610.39,949.43 610.4,949.98 610.41,950.48 610.42,950.94 610.43,951.37 610.51,955.9 611.85,956.39 613.18,957.07 614.52,957.73 615.85,958.37 617.19,958.99 618.52,959.6 619.86,960.18 621.19,960.74 622.52,961.28 623.86,961.8 625.19,962.31 626.53,962.8 627.86,963.27 629.2,963.73 630.53,964.18 631.87,964.61 633.2,965.02 634.54,965.43 635.87,965.81 637.21,966.19 638.54,966.55 639.88,966.9 641.21,967.25 642.55,967.58 643.88,967.9 645.22,968.21 646.55,968.51 647.89,968.79 649.22,969.07 650.56,969.34 651.89,969.59 653.23,969.84 654.56,970.09 655.9,970.32 657.23,970.56 658.57,970.79 659.9,971.02 661.23,971.26 662.57,971.49 663.9,971.71 665.24,971.94 666.57,972.16 667.91,972.37 669.24,972.58 670.58,972.78 671.91,972.98 673.25,973.16 674.58,973.35 675.92,973.53 677.25,973.7 678.59,973.87 679.92,974.04 681.26,974.2 682.59,974.37 683.93,974.52 685.26,974.68 686.6,974.83 687.93,974.99 689.27,975.14 690.6,975.28 691.94,975.43 693.27,975.57 694.61,975.72 695.94,975.86 697.28,976 698.61,976.14 699.95,976.27 701.28,976.41 702.61,976.54 703.95,976.67 705.28,976.8 706.62,976.92 707.95,977.05 709.29,977.17 710.62,977.29 711.96,977.4 713.29,977.52 714.63,977.63 715.96,977.74 717.3,977.84 718.63,977.95 719.97,978.05 721.3,978.16 722.64,978.26 723.97,978.36 725.31,978.45 726.64,978.55 727.98,978.64 729.31,978.73 730.65,978.81 731.98,978.9 733.32,978.98 734.65,979.06 735.99,979.14 737.32,979.22 738.66,979.29 739.99,979.37 741.33,979.44 742.66,979.51" fill="none" stroke="#f1ae93" stroke-width="1.12" stroke-linejoin="round"/>
<polyline points="168.1,997.3 168.72,1014.31 169.74,1020.87 170.97,1021.6 184.52,1015.28 185.54,1014.31 186.49,875.65 187.01,865.55 187.53,857.37 188.06,852.79 188.58,849.58 189.1,847.01 189.62,844.99 190.15,843.39 190.67,842.09 191.19,840.98 191.72,840.01 192.24,839.17 192.76,838.41 193.29,837.71 193.81,837.05 194.33,836.4 194.86,835.76 195.38,835.13 195.9,834.52 196.42,833.94 196.95,833.39 197.47,832.89 197.99,832.43 198.52,832.03 199.04,831.7 199.56,831.43 200.09,831.18 200.61,830.94 201.13,830.71 201.66,830.49 202.18,830.28 202.7,830.08 203.22,829.9 203.75,829.73 204.27,829.59 204.79,829.46 205.32,829.36 205.84,829.28 206.36,829.23 206.89,829.21 207.41,829.22 207.93,829.23 208.46,829.24 208.98,829.26 209.5,829.27 210.02,829.28 210.55,829.3 211.07,829.32 211.59,829.33 212.12,829.35 212.64,829.36 213.16,829.38 213.69,829.4 214.21,829.42 214.73,829.43 215.26,829.45 215.78,829.47 216.3,829.49 216.82,829.5 217.35,829.52 222.35,829.7 227.35,829.89 232.35,830.09 237.35,830.28 242.35,830.47 247.35,830.66 252.35,830.85 257.35,831.03 262.35,831.21 267.35,831.39 272.36,831.56 277.36,831.72 282.36,831.88 287.36,832.05 292.36,832.21 297.36,832.37 302.36,832.54 307.36,832.71 312.36,832.88 317.36,833.05 322.36,833.22 327.36,833.4 332.36,833.58 337.36,833.77 342.36,833.96 347.36,834.16 352.37,834.37 357.37,834.59 362.37,834.82 367.37,835.06 372.37,835.31 377.37,835.57 382.37,835.85 387.37,836.14 392.37,836.46 397.37,836.82 402.37,837.22 407.37,837.64 412.37,838.1 417.37,838.59 422.37,839.1 427.38,839.63 432.38,840.19 437.38,840.77 442.38,841.36 447.38,841.97 452.38,842.59 457.38,843.22 462.38,843.86 467.38,844.5 472.38,845.15 477.38,845.79 482.38,846.44 487.38,847.08 492.38,847.72 497.38,848.37 502.38,849.03 507.39,849.71 512.39,850.43 517.39,851.18 522.39,851.99 527.39,852.86 532.39,853.8 537.39,854.84 542.39,856.07 547.39,857.47 552.39,858.96 557.39,860.49 562.39,862.04 567.39,863.65 572.39,865.33 577.39,867.09 582.4,868.95 587.4,870.9 592.4,872.96 597.4,875.16 602.4,877.59 607.4,880.24 612.4,883.28 614.23,884.56 615.9,885.85 617.42,887.13 618.81,888.42 620.07,889.72 621.22,891.03 622.26,892.33 623.21,893.62 624.08,894.88 624.87,896.13 625.59,897.37 626.24,898.64 626.84,899.91 627.38,901.2 627.88,902.49 628.33,903.77 628.74,905.06 629.11,906.42 629.45,907.83 629.76,909.28 630.04,910.76 630.3,912.23 630.53,913.7 630.75,915.14 630.94,916.58 631.12,918.19 631.28,919.91 631.43,921.66 631.56,923.37 631.68,925.01 631.79,926.56 631.89,928 631.98,929.33 632.07,930.55 632.14,931.65 632.21,932.64 632.28,933.56 632.33,934.47 632.39,935.39 632.43,936.31 632.48,937.25 632.52,938.19 632.55,939.18 632.58,940.21 632.61,941.25 632.64,942.27 632.67,943.26 632.69,944.21 632.71,945.11 632.73,945.96 632.75,946.75 632.76,947.5 632.78,948.19 632.79,948.83 632.8,949.43 632.81,949.98 632.82,950.48 632.83,950.94 632.84,951.37 632.92,955.9 634.03,956.28 635.14,956.84 636.24,957.39 637.35,957.94 638.46,958.46 639.57,958.98 640.68,959.48 641.79,959.97 642.9,960.45 644,960.91 645.11,961.35 646.22,961.78 647.33,962.21 648.44,962.62 649.55,963.02 650.65,963.41 651.76,963.79 652.87,964.16 653.98,964.52 655.09,964.86 656.2,965.2 657.31,965.53 658.41,965.85 659.52,966.16 660.63,966.47 661.74,966.76 662.85,967.05 663.96,967.33 665.07,967.6 666.17,967.87 667.28,968.13 668.39,968.38 669.5,968.62 670.61,968.86 671.72,969.09 672.82,969.31 673.93,969.52 675.04,969.73 676.15,969.94 677.26,970.14 678.37,970.34 679.48,970.53 680.58,970.72 681.69,970.92 682.8,971.11 683.91,971.3 685.02,971.49 686.13,971.68 687.24,971.87 688.34,972.05 689.45,972.24 690.56,972.41 691.67,972.59 692.78,972.75 693.89,972.92 694.99,973.07 696.1,973.23 697.21,973.38 698.32,973.52 699.43,973.67 700.54,973.81 701.65,973.95 702.75,974.09 703.86,974.23 704.97,974.36 706.08,974.49 707.19,974.62 708.3,974.75 709.41,974.88 710.51,975.01 711.62,975.13 712.73,975.25 713.84,975.37 714.95,975.49 716.06,975.61 717.16,975.73 718.27,975.85 719.38,975.97 720.49,976.08 721.6,976.2 722.71,976.31 723.82,976.42 724.92,976.53 726.03,976.64 727.14,976.75 728.25,976.85 729.36,976.96 730.47,977.06 731.58,977.16 732.68,977.26 733.79,977.35 734.9,977.45 736.01,977.54 737.12,977.63 738.23,977.72 739.33,977.81 740.44,977.9 741.55,977.99 742.66,978.08" fill="none" stroke="#e6876d" stroke-width="1.12" stroke-linejoin="round"/>
<polyline points="168.1,997.3 168.72,1014.94 169.74,1021.74 170.97,1022.49 184.52,1015.94 185.54,1014.94 186.49,874.84 187.01,864.71 187.53,856.55 188.06,852.01 188.58,848.77 189.1,846.18 189.62,844.14 190.15,842.53 190.67,841.22 191.19,840.1 191.72,839.13 192.24,838.28 192.76,837.52 193.29,836.83 193.81,836.17 194.33,835.52 194.86,834.88 195.38,834.25 195.9,833.64 196.42,833.06 196.95,832.51 197.47,832 197.99,831.54 198.52,831.14 199.04,830.8 199.56,830.53 200.09,830.29 200.61,830.05 201.13,829.81 201.66,829.59 202.18,829.38 202.7,829.18 203.22,829 203.75,828.83 204.27,828.68 204.79,828.56 205.32,828.46 205.84,828.38 206.36,828.33 206.89,828.31 207.41,828.32 207.93,828.34 208.46,828.35 208.98,828.37 209.5,828.38 210.02,828.4 210.55,828.41 211.07,828.43 211.59,828.45 212.12,828.46 212.64,828.48 213.16,828.5 213.69,828.51 214.21,828.53 214.73,828.55 215.26,828.56 215.78,828.58 216.3,828.6 216.82,828.62 217.35,828.63 222.58,828.82 227.82,829.01 233.06,829.21 238.29,829.42 243.53,829.63 248.77,829.85 254,830.06 259.24,830.28 264.48,830.5 269.71,830.71 274.95,830.92 280.19,831.12 285.42,831.32 290.66,831.51 295.9,831.69 301.13,831.88 306.37,832.05 311.6,832.23 316.84,832.4 322.08,832.58 327.31,832.75 332.55,832.93 337.79,833.11 343.02,833.29 348.26,833.48 353.5,833.67 358.73,833.87 363.97,834.08 369.21,834.3 374.44,834.52 379.68,834.76 384.92,835.01 390.15,835.27 395.39,835.54 400.63,835.83 405.86,836.13 411.1,836.47 416.33,836.85 421.57,837.26 426.81,837.71 432.04,838.2 437.28,838.71 442.52,839.26 447.75,839.83 452.99,840.42 458.23,841.03 463.46,841.66 468.7,842.3 473.94,842.96 479.17,843.62 484.41,844.29 489.65,844.97 494.88,845.65 500.12,846.33 505.36,847 510.59,847.67 515.83,848.34 521.06,849.03 526.3,849.75 531.54,850.5 536.77,851.3 542.01,852.16 547.25,853.08 552.48,854.09 557.72,855.24 562.96,856.6 568.19,858.1 573.43,859.69 578.67,861.3 583.9,862.95 589.14,864.68 594.38,866.5 599.61,868.42 604.85,870.44 610.09,872.56 615.32,874.84 620.56,877.35 625.79,880.11 631.03,883.28 632.86,884.56 634.53,885.85 636.05,887.13 637.44,888.42 638.7,889.72 639.85,891.03 640.89,892.33 641.85,893.62 642.71,894.88 643.5,896.13 644.22,897.37 644.88,898.64 645.47,899.91 646.02,901.2 646.51,902.49 646.96,903.77 647.37,905.06 647.74,906.42 648.08,907.83 648.39,909.28 648.68,910.76 648.93,912.23 649.17,913.7 649.38,915.14 649.57,916.58 649.75,918.19 649.91,919.91 650.06,921.66 650.19,923.37 650.31,925.01 650.42,926.56 650.52,928 650.62,929.33 650.7,930.55 650.78,931.65 650.84,932.64 650.91,933.56 650.97,934.47 651.02,935.39 651.07,936.31 651.11,937.25 651.15,938.19 651.18,939.18 651.22,940.21 651.25,941.25 651.27,942.27 651.3,943.26 651.32,944.21 651.34,945.11 651.36,945.96 651.38,946.75 651.39,947.5 651.41,948.19 651.42,948.83 651.43,949.43 651.44,949.98 651.45,950.48 651.46,950.94 651.47,951.37 651.55,955.9 652.47,956.18 653.39,956.65 654.31,957.11 655.23,957.57 656.15,958.02 657.07,958.45 657.99,958.88 658.91,959.31 659.83,959.72 660.75,960.12 661.67,960.51 662.59,960.89 663.51,961.26 664.44,961.62 665.36,961.98 666.28,962.32 667.2,962.66 668.12,962.99 669.04,963.32 669.96,963.64 670.88,963.95 671.8,964.25 672.72,964.55 673.64,964.84 674.56,965.12 675.48,965.4 676.4,965.66 677.32,965.93 678.24,966.18 679.16,966.44 680.08,966.68 681,966.93 681.92,967.16 682.84,967.39 683.76,967.62 684.68,967.84 685.6,968.06 686.52,968.27 687.44,968.47 688.36,968.67 689.28,968.87 690.2,969.06 691.12,969.24 692.04,969.42 692.96,969.6 693.88,969.77 694.8,969.94 695.73,970.11 696.65,970.27 697.57,970.44 698.49,970.6 699.41,970.76 700.33,970.92 701.25,971.08 702.17,971.24 703.09,971.4 704.01,971.55 704.93,971.71 705.85,971.87 706.77,972.02 707.69,972.17 708.61,972.32 709.53,972.47 710.45,972.61 711.37,972.75 712.29,972.88 713.21,973.01 714.13,973.14 715.05,973.27 715.97,973.39 716.89,973.52 717.81,973.64 718.73,973.76 719.65,973.87 720.57,973.99 721.49,974.1 722.41,974.22 723.33,974.33 724.25,974.44 725.17,974.55 726.09,974.66 727.02,974.76 727.94,974.87 728.86,974.97 729.78,975.08 730.7,975.18 731.62,975.28 732.54,975.38 733.46,975.48 734.38,975.58 735.3,975.68 736.22,975.78 737.14,975.87 738.06,975.97 738.98,976.07 739.9,976.16 740.82,976.26 741.74,976.35 742.66,976.44" fill="none" stroke="#cd5649" stroke-width="1.12" stroke-linejoin="round"/>
<polyline points="168.1,997.3 168.72,1015.5 169.74,1022.52 170.97,1023.3 184.52,1016.54 185.54,1015.5 186.49,874.54 187.01,864.41 187.53,856.25 188.06,851.7 188.58,848.46 189.1,845.88 189.62,843.84 190.15,842.23 190.67,840.92 191.19,839.8 191.72,838.82 192.24,837.97 192.76,837.21 193.29,836.51 193.81,835.86 194.33,835.21 194.86,834.56 195.38,833.93 195.9,833.32 196.42,832.73 196.95,832.18 197.47,831.67 197.99,831.21 198.52,830.8 199.04,830.46 199.56,830.19 200.09,829.94 200.61,829.69 201.13,829.46 201.66,829.23 202.18,829.01 202.7,828.81 203.22,828.62 203.75,828.45 204.27,828.3 204.79,828.17 205.32,828.06 205.84,827.98 206.36,827.93 206.89,827.9 207.41,827.91 207.93,827.92 208.46,827.93 208.98,827.94 209.5,827.95 210.02,827.96 210.55,827.97 211.07,827.98 211.59,827.99 212.12,828 212.64,828.01 213.16,828.02 213.69,828.04 214.21,828.05 214.73,828.06 215.26,828.07 215.78,828.08 216.3,828.1 216.82,828.11 217.35,828.12 222.8,828.27 228.26,828.43 233.71,828.6 239.17,828.79 244.62,828.99 250.08,829.2 255.53,829.42 260.99,829.64 266.44,829.86 271.89,830.09 277.35,830.32 282.8,830.54 288.26,830.76 293.71,830.98 299.17,831.19 304.62,831.39 310.08,831.59 315.53,831.78 320.99,831.96 326.44,832.15 331.9,832.33 337.35,832.51 342.81,832.69 348.26,832.88 353.72,833.06 359.17,833.25 364.62,833.45 370.08,833.65 375.53,833.85 380.99,834.07 386.44,834.3 391.9,834.53 397.35,834.78 402.81,835.04 408.26,835.31 413.72,835.6 419.17,835.9 424.63,836.23 430.08,836.59 435.54,837 440.99,837.45 446.44,837.93 451.9,838.45 457.35,839.01 462.81,839.59 468.26,840.19 473.72,840.82 479.17,841.47 484.63,842.14 490.08,842.82 495.54,843.51 500.99,844.21 506.45,844.91 511.9,845.62 517.36,846.33 522.81,847.03 528.26,847.72 533.72,848.43 539.17,849.15 544.63,849.9 550.08,850.7 555.54,851.55 560.99,852.46 566.45,853.45 571.9,854.54 577.36,855.84 582.81,857.34 588.27,858.96 593.72,860.63 599.18,862.33 604.63,864.1 610.09,865.96 615.54,867.93 620.99,870.01 626.45,872.2 631.9,874.54 637.36,877.13 642.81,879.99 648.27,883.28 650.1,884.56 651.77,885.85 653.29,887.13 654.68,888.42 655.94,889.72 657.08,891.03 658.13,892.33 659.08,893.62 659.95,894.88 660.74,896.13 661.46,897.37 662.11,898.64 662.71,899.91 663.25,901.2 663.75,902.49 664.2,903.77 664.61,905.06 664.98,906.42 665.32,907.83 665.63,909.28 665.91,910.76 666.17,912.23 666.4,913.7 666.62,915.14 666.81,916.58 666.99,918.19 667.15,919.91 667.29,921.66 667.43,923.37 667.55,925.01 667.66,926.56 667.76,928 667.85,929.33 667.94,930.55 668.01,931.65 668.08,932.64 668.14,933.56 668.2,934.47 668.25,935.39 668.3,936.31 668.35,937.25 668.39,938.19 668.42,939.18 668.45,940.21 668.48,941.25 668.51,942.27 668.54,943.26 668.56,944.21 668.58,945.11 668.6,945.96 668.61,946.75 668.63,947.5 668.64,948.19 668.66,948.83 668.67,949.43 668.68,949.98 668.69,950.48 668.7,950.94 668.71,951.37 668.79,955.9 669.53,956.09 670.28,956.47 671.03,956.85 671.77,957.22 672.52,957.59 673.27,957.96 674.01,958.31 674.76,958.66 675.5,959.01 676.25,959.35 677,959.68 677.74,960.01 678.49,960.33 679.23,960.65 679.98,960.95 680.73,961.25 681.47,961.55 682.22,961.83 682.97,962.12 683.71,962.4 684.46,962.67 685.2,962.94 685.95,963.21 686.7,963.47 687.44,963.72 688.19,963.97 688.93,964.22 689.68,964.46 690.43,964.7 691.17,964.93 691.92,965.16 692.67,965.38 693.41,965.6 694.16,965.81 694.9,966.03 695.65,966.23 696.4,966.44 697.14,966.64 697.89,966.83 698.64,967.03 699.38,967.22 700.13,967.41 700.87,967.59 701.62,967.77 702.37,967.95 703.11,968.12 703.86,968.29 704.6,968.46 705.35,968.62 706.1,968.78 706.84,968.94 707.59,969.09 708.34,969.24 709.08,969.39 709.83,969.53 710.57,969.67 711.32,969.81 712.07,969.95 712.81,970.08 713.56,970.22 714.31,970.35 715.05,970.48 715.8,970.61 716.54,970.74 717.29,970.87 718.04,971 718.78,971.13 719.53,971.26 720.27,971.39 721.02,971.52 721.77,971.64 722.51,971.77 723.26,971.9 724.01,972.02 724.75,972.14 725.5,972.26 726.24,972.38 726.99,972.5 727.74,972.62 728.48,972.73 729.23,972.84 729.97,972.95 730.72,973.05 731.47,973.16 732.21,973.26 732.96,973.36 733.71,973.46 734.45,973.56 735.2,973.66 735.94,973.75 736.69,973.85 737.44,973.94 738.18,974.04 738.93,974.13 739.68,974.22 740.42,974.31 741.17,974.4 741.91,974.49 742.66,974.58" fill="none" stroke="#a80a29" stroke-width="1.12" stroke-linejoin="round"/>
<g stroke="#000" stroke-width="2" fill="none" stroke-linecap="butt">
<rect x="159.8" y="50.7" width="582.8" height="1001.1"/>
<line x1="159.8" y1="301" x2="742.6" y2="301"/>
<line x1="159.8" y1="551.25" x2="742.6" y2="551.25"/>
<line x1="159.8" y1="801.5" x2="742.6" y2="801.5"/>
</g>
<g stroke="#000" stroke-width="1.8" fill="none">
<line x1="168.1" y1="301" x2="168.1" y2="292.5"/>
<line x1="250.18" y1="301" x2="250.18" y2="292.5"/>
<line x1="332.26" y1="301" x2="332.26" y2="292.5"/>
<line x1="414.34" y1="301" x2="414.34" y2="292.5"/>
<line x1="496.42" y1="301" x2="496.42" y2="292.5"/>
<line x1="578.5" y1="301" x2="578.5" y2="292.5"/>
<line x1="660.58" y1="301" x2="660.58" y2="292.5"/>
<line x1="168.1" y1="551.25" x2="168.1" y2="542.75"/>
<line x1="250.18" y1="551.25" x2="250.18" y2="542.75"/>
<line x1="332.26" y1="551.25" x2="332.26" y2="542.75"/>
<line x1="414.34" y1="551.25" x2="414.34" y2="542.75"/>
<line x1="496.42" y1="551.25" x2="496.42" y2="542.75"/>
<line x1="578.5" y1="551.25" x2="578.5" y2="542.75"/>
<line x1="660.58" y1="551.25" x2="660.58" y2="542.75"/>
<line x1="168.1" y1="801.5" x2="168.1" y2="793"/>
<line x1="250.18" y1="801.5" x2="250.18" y2="793"/>
<line x1="332.26" y1="801.5" x2="332.26" y2="793"/>
<line x1="414.34" y1="801.5" x2="414.34" y2="793"/>
<line x1="496.42" y1="801.5" x2="496.42" y2="793"/>
<line x1="578.5" y1="801.5" x2="578.5" y2="793"/>
<line x1="660.58" y1="801.5" x2="660.58" y2="793"/>
<line x1="168.1" y1="1051.8" x2="168.1" y2="1043.3"/>
<line x1="250.18" y1="1051.8" x2="250.18" y2="1043.3"/>
<line x1="332.26" y1="1051.8" x2="332.26" y2="1043.3"/>
<line x1="414.34" y1="1051.8" x2="414.34" y2="1043.3"/>
<line x1="496.42" y1="1051.8" x2="496.42" y2="1043.3"/>
<line x1="578.5" y1="1051.8" x2="578.5" y2="1043.3"/>
<line x1="660.58" y1="1051.8" x2="660.58" y2="1043.3"/>
<line x1="159.8" y1="301" x2="168.3" y2="301"/>
<line x1="159.8" y1="259.28" x2="168.3" y2="259.28"/>
<line x1="159.8" y1="217.57" x2="168.3" y2="217.57"/>
<line x1="159.8" y1="175.85" x2="168.3" y2="175.85"/>
<line x1="159.8" y1="134.13" x2="168.3" y2="134.13"/>
<line x1="159.8" y1="92.42" x2="168.3" y2="92.42"/>
<line x1="159.8" y1="50.7" x2="168.3" y2="50.7"/>
<line x1="159.8" y1="551.25" x2="168.3" y2="551.25"/>
<line x1="159.8" y1="479.75" x2="168.3" y2="479.75"/>
<line x1="159.8" y1="408.25" x2="168.3" y2="408.25"/>
<line x1="159.8" y1="336.75" x2="168.3" y2="336.75"/>
<line x1="159.8" y1="801.5" x2="168.3" y2="801.5"/>
<line x1="159.8" y1="756" x2="168.3" y2="756"/>
<line x1="159.8" y1="710.5" x2="168.3" y2="710.5"/>
<line x1="159.8" y1="665" x2="168.3" y2="665"/>
<line x1="159.8" y1="619.5" x2="168.3" y2="619.5"/>
<line x1="159.8" y1="574" x2="168.3" y2="574"/>
<line x1="159.8" y1="1051.1" x2="168.3" y2="1051.1"/>
<line x1="159.8" y1="998.5" x2="168.3" y2="998.5"/>
<line x1="159.8" y1="945.9" x2="168.3" y2="945.9"/>
<line x1="159.8" y1="893.3" x2="168.3" y2="893.3"/>
<line x1="159.8" y1="840.7" x2="168.3" y2="840.7"/>
</g>
<g fill="#000" font-size="20" text-anchor="end">
<text x="150" y="308.14">0</text>
<text x="150" y="266.43">50</text>
<text x="150" y="224.71">100</text>
<text x="150" y="182.99">150</text>
<text x="150" y="141.28">200</text>
<text x="150" y="99.56">250</text>
<text x="150" y="57.84">300</text>
<text x="150" y="558.39">0.0</text>
<text x="150" y="486.89">0.1</text>
<text x="150" y="415.39">0.2</text>
<text x="150" y="343.89">0.3</text>
<text x="150" y="808.64">0</text>
<text x="150" y="763.14">100</text>
<text x="150" y="717.64">200</text>
<text x="150" y="672.14">300</text>
<text x="150" y="626.64">400</text>
<text x="150" y="581.14">500</text>
<text x="147.6" y="1058.24">10<tspan dy="-7.5" font-size="14">−10</tspan></text>
<text x="149.3" y="1005.64">10<tspan dy="-7.5" font-size="14">−8</tspan></text>
<text x="149.3" y="953.04">10<tspan dy="-7.5" font-size="14">−6</tspan></text>
<text x="149.3" y="900.44">10<tspan dy="-7.5" font-size="14">−4</tspan></text>
<text x="149.3" y="847.84">10<tspan dy="-7.5" font-size="14">−2</tspan></text>
</g>
<g fill="#000" font-size="20" text-anchor="middle">
<text x="168.4" y="1075.6">0</text>
<text x="250.48" y="1075.6">2</text>
<text x="332.56" y="1075.6">4</text>
<text x="414.64" y="1075.6">6</text>
<text x="496.72" y="1075.6">8</text>
<text x="578.8" y="1075.6">10</text>
<text x="660.88" y="1075.6">12</text>
<text x="742.96" y="1075.6">14</text>
</g>
<g shape-rendering="crispEdges">
<rect x="819.9" y="345" width="21.2" height="2.6" fill="#ae0727"/>
<rect x="819.9" y="347" width="21.2" height="2.6" fill="#af0b29"/>
<rect x="819.9" y="349" width="21.2" height="2.6" fill="#b1102a"/>
<rect x="819.9" y="351" width="21.2" height="2.6" fill="#b4192c"/>
<rect x="819.9" y="353" width="21.2" height="2.6" fill="#b61d2d"/>
<rect x="819.9" y="355" width="21.2" height="2.6" fill="#b7222f"/>
<rect x="819.9" y="357" width="21.2" height="2.6" fill="#b92630"/>
<rect x="819.9" y="359" width="21.2" height="2.6" fill="#ba2b31"/>
<rect x="819.9" y="361" width="21.2" height="2.6" fill="#bd3034"/>
<rect x="819.9" y="363" width="21.2" height="2.6" fill="#be3335"/>
<rect x="819.9" y="365" width="21.2" height="2.6" fill="#c03536"/>
<rect x="819.9" y="367" width="21.2" height="2.6" fill="#c13837"/>
<rect x="819.9" y="369" width="21.2" height="2.6" fill="#c23b39"/>
<rect x="819.9" y="371" width="21.2" height="2.6" fill="#c43e3a"/>
<rect x="819.9" y="373" width="21.2" height="2.6" fill="#c6423c"/>
<rect x="819.9" y="375" width="21.2" height="2.6" fill="#c7453e"/>
<rect x="819.9" y="377" width="21.2" height="2.6" fill="#c9473f"/>
<rect x="819.9" y="379" width="21.2" height="2.6" fill="#ca4940"/>
<rect x="819.9" y="381" width="21.2" height="2.6" fill="#cb4c42"/>
<rect x="819.9" y="383" width="21.2" height="2.6" fill="#ce5044"/>
<rect x="819.9" y="385" width="21.2" height="2.6" fill="#cf5246"/>
<rect x="819.9" y="387" width="21.2" height="2.6" fill="#d05547"/>
<rect x="819.9" y="389" width="21.2" height="2.6" fill="#d15748"/>
<rect x="819.9" y="391" width="21.2" height="2.6" fill="#d2594a"/>
<rect x="819.9" y="393" width="21.2" height="2.6" fill="#d35b4b"/>
<rect x="819.9" y="395" width="21.2" height="2.6" fill="#d55f4e"/>
<rect x="819.9" y="397" width="21.2" height="2.6" fill="#d6614f"/>
<rect x="819.9" y="399" width="21.2" height="2.6" fill="#d86351"/>
<rect x="819.9" y="401" width="21.2" height="2.6" fill="#d86552"/>
<rect x="819.9" y="403" width="21.2" height="2.6" fill="#d96753"/>
<rect x="819.9" y="405" width="21.2" height="2.6" fill="#da6955"/>
<rect x="819.9" y="407" width="21.2" height="2.6" fill="#dc6d58"/>
<rect x="819.9" y="409" width="21.2" height="2.6" fill="#dd6f59"/>
<rect x="819.9" y="411" width="21.2" height="2.6" fill="#de715b"/>
<rect x="819.9" y="413" width="21.2" height="2.6" fill="#df735c"/>
<rect x="819.9" y="415" width="21.2" height="2.6" fill="#e0755d"/>
<rect x="819.9" y="417" width="21.2" height="2.6" fill="#e27860"/>
<rect x="819.9" y="419" width="21.2" height="2.6" fill="#e27a62"/>
<rect x="819.9" y="421" width="21.2" height="2.6" fill="#e37c63"/>
<rect x="819.9" y="423" width="21.2" height="2.6" fill="#e47e65"/>
<rect x="819.9" y="425" width="21.2" height="2.6" fill="#e58066"/>
<rect x="819.9" y="427" width="21.2" height="2.6" fill="#e58168"/>
<rect x="819.9" y="429" width="21.2" height="2.6" fill="#e7856b"/>
<rect x="819.9" y="431" width="21.2" height="2.6" fill="#e7876c"/>
<rect x="819.9" y="433" width="21.2" height="2.6" fill="#e8886e"/>
<rect x="819.9" y="435" width="21.2" height="2.6" fill="#e98a6f"/>
<rect x="819.9" y="437" width="21.2" height="2.6" fill="#e98c71"/>
<rect x="819.9" y="439" width="21.2" height="2.6" fill="#eb8f74"/>
<rect x="819.9" y="441" width="21.2" height="2.6" fill="#eb9175"/>
<rect x="819.9" y="443" width="21.2" height="2.6" fill="#ec9277"/>
<rect x="819.9" y="445" width="21.2" height="2.6" fill="#ec9478"/>
<rect x="819.9" y="447" width="21.2" height="2.6" fill="#ed967a"/>
<rect x="819.9" y="449" width="21.2" height="2.6" fill="#ed977b"/>
<rect x="819.9" y="451" width="21.2" height="2.6" fill="#ee9b7e"/>
<rect x="819.9" y="453" width="21.2" height="2.6" fill="#ef9c80"/>
<rect x="819.9" y="455" width="21.2" height="2.6" fill="#ef9e82"/>
<rect x="819.9" y="457" width="21.2" height="2.6" fill="#ef9f83"/>
<rect x="819.9" y="459" width="21.2" height="2.6" fill="#efa185"/>
<rect x="819.9" y="461" width="21.2" height="2.6" fill="#f0a488"/>
<rect x="819.9" y="463" width="21.2" height="2.6" fill="#f0a589"/>
<rect x="819.9" y="465" width="21.2" height="2.6" fill="#f1a78b"/>
<rect x="819.9" y="467" width="21.2" height="2.6" fill="#f1a88c"/>
<rect x="819.9" y="469" width="21.2" height="2.6" fill="#f1aa8e"/>
<rect x="819.9" y="471" width="21.2" height="2.6" fill="#f1ab90"/>
<rect x="819.9" y="473" width="21.2" height="2.6" fill="#f2ae93"/>
<rect x="819.9" y="475" width="21.2" height="2.6" fill="#f2af94"/>
<rect x="819.9" y="477" width="21.2" height="2.6" fill="#f2b096"/>
<rect x="819.9" y="479" width="21.2" height="2.6" fill="#f2b297"/>
<rect x="819.9" y="481" width="21.2" height="2.6" fill="#f2b399"/>
<rect x="819.9" y="483" width="21.2" height="2.6" fill="#f2b49a"/>
<rect x="819.9" y="485" width="21.2" height="2.6" fill="#f2b79d"/>
<rect x="819.9" y="487" width="21.2" height="2.6" fill="#f2b89f"/>
<rect x="819.9" y="489" width="21.2" height="2.6" fill="#f2b9a0"/>
<rect x="819.9" y="491" width="21.2" height="2.6" fill="#f2bba2"/>
<rect x="819.9" y="493" width="21.2" height="2.6" fill="#f2bca4"/>
<rect x="819.9" y="495" width="21.2" height="2.6" fill="#f2bea7"/>
<rect x="819.9" y="497" width="21.2" height="2.6" fill="#f2bfa8"/>
<rect x="819.9" y="499" width="21.2" height="2.6" fill="#f1c0aa"/>
<rect x="819.9" y="501" width="21.2" height="2.6" fill="#f1c2ab"/>
<rect x="819.9" y="503" width="21.2" height="2.6" fill="#f1c3ad"/>
<rect x="819.9" y="505" width="21.2" height="2.6" fill="#f1c4ae"/>
<rect x="819.9" y="507" width="21.2" height="2.6" fill="#f1c6b1"/>
<rect x="819.9" y="509" width="21.2" height="2.6" fill="#f0c7b3"/>
<rect x="819.9" y="511" width="21.2" height="2.6" fill="#f0c8b4"/>
<rect x="819.9" y="513" width="21.2" height="2.6" fill="#efc9b6"/>
<rect x="819.9" y="515" width="21.2" height="2.6" fill="#efcab7"/>
<rect x="819.9" y="517" width="21.2" height="2.6" fill="#eeccba"/>
<rect x="819.9" y="519" width="21.2" height="2.6" fill="#eecdbc"/>
<rect x="819.9" y="521" width="21.2" height="2.6" fill="#eecebd"/>
<rect x="819.9" y="523" width="21.2" height="2.6" fill="#edcebe"/>
<rect x="819.9" y="525" width="21.2" height="2.6" fill="#eccfc0"/>
<rect x="819.9" y="527" width="21.2" height="2.6" fill="#ecd0c1"/>
<rect x="819.9" y="529" width="21.2" height="2.6" fill="#ebd2c4"/>
<rect x="819.9" y="531" width="21.2" height="2.6" fill="#ead2c6"/>
<rect x="819.9" y="533" width="21.2" height="2.6" fill="#ead3c7"/>
<rect x="819.9" y="535" width="21.2" height="2.6" fill="#e9d4c8"/>
<rect x="819.9" y="537" width="21.2" height="2.6" fill="#e8d5ca"/>
<rect x="819.9" y="539" width="21.2" height="2.6" fill="#e7d6cc"/>
<rect x="819.9" y="541" width="21.2" height="2.6" fill="#e6d7ce"/>
<rect x="819.9" y="543" width="21.2" height="2.6" fill="#e6d7cf"/>
<rect x="819.9" y="545" width="21.2" height="2.6" fill="#e5d8d0"/>
<rect x="819.9" y="547" width="21.2" height="2.6" fill="#e4d8d2"/>
<rect x="819.9" y="549" width="21.2" height="2.6" fill="#e3d9d3"/>
<rect x="819.9" y="551" width="21.2" height="2.6" fill="#e2dad6"/>
<rect x="819.9" y="553" width="21.2" height="2.6" fill="#e1dbd7"/>
<rect x="819.9" y="555" width="21.2" height="2.6" fill="#e0dbd8"/>
<rect x="819.9" y="557" width="21.2" height="2.6" fill="#dfdbda"/>
<rect x="819.9" y="559" width="21.2" height="2.6" fill="#dedcdb"/>
<rect x="819.9" y="561" width="21.2" height="2.6" fill="#dddcdc"/>
<rect x="819.9" y="563" width="21.2" height="2.6" fill="#dbdcde"/>
<rect x="819.9" y="565" width="21.2" height="2.6" fill="#dadcdf"/>
<rect x="819.9" y="567" width="21.2" height="2.6" fill="#d9dce0"/>
<rect x="819.9" y="569" width="21.2" height="2.6" fill="#d9dce1"/>
<rect x="819.9" y="571" width="21.2" height="2.6" fill="#d8dce2"/>
<rect x="819.9" y="573" width="21.2" height="2.6" fill="#d6dbe4"/>
<rect x="819.9" y="575" width="21.2" height="2.6" fill="#d5dbe5"/>
<rect x="819.9" y="577" width="21.2" height="2.6" fill="#d4dbe6"/>
<rect x="819.9" y="579" width="21.2" height="2.6" fill="#d3dae6"/>
<rect x="819.9" y="581" width="21.2" height="2.6" fill="#d2dae7"/>
<rect x="819.9" y="583" width="21.2" height="2.6" fill="#d1dae8"/>
<rect x="819.9" y="585" width="21.2" height="2.6" fill="#cfd9e9"/>
<rect x="819.9" y="587" width="21.2" height="2.6" fill="#ced9ea"/>
<rect x="819.9" y="589" width="21.2" height="2.6" fill="#cdd8eb"/>
<rect x="819.9" y="591" width="21.2" height="2.6" fill="#cbd8ec"/>
<rect x="819.9" y="593" width="21.2" height="2.6" fill="#cad7ec"/>
<rect x="819.9" y="595" width="21.2" height="2.6" fill="#c8d6ed"/>
<rect x="819.9" y="597" width="21.2" height="2.6" fill="#c7d6ee"/>
<rect x="819.9" y="599" width="21.2" height="2.6" fill="#c6d5ef"/>
<rect x="819.9" y="601" width="21.2" height="2.6" fill="#c5d5ef"/>
<rect x="819.9" y="603" width="21.2" height="2.6" fill="#c4d4f0"/>
<rect x="819.9" y="605" width="21.2" height="2.6" fill="#c3d3f0"/>
<rect x="819.9" y="607" width="21.2" height="2.6" fill="#c0d2f1"/>
<rect x="819.9" y="609" width="21.2" height="2.6" fill="#bfd1f1"/>
<rect x="819.9" y="611" width="21.2" height="2.6" fill="#bed1f2"/>
<rect x="819.9" y="613" width="21.2" height="2.6" fill="#bdd0f2"/>
<rect x="819.9" y="615" width="21.2" height="2.6" fill="#bccff3"/>
<rect x="819.9" y="617" width="21.2" height="2.6" fill="#b9cef3"/>
<rect x="819.9" y="619" width="21.2" height="2.6" fill="#b8cdf3"/>
<rect x="819.9" y="621" width="21.2" height="2.6" fill="#b7ccf4"/>
<rect x="819.9" y="623" width="21.2" height="2.6" fill="#b6ccf4"/>
<rect x="819.9" y="625" width="21.2" height="2.6" fill="#b4cbf4"/>
<rect x="819.9" y="627" width="21.2" height="2.6" fill="#b3caf4"/>
<rect x="819.9" y="629" width="21.2" height="2.6" fill="#b1c8f5"/>
<rect x="819.9" y="631" width="21.2" height="2.6" fill="#afc7f5"/>
<rect x="819.9" y="633" width="21.2" height="2.6" fill="#aec6f5"/>
<rect x="819.9" y="635" width="21.2" height="2.6" fill="#adc5f5"/>
<rect x="819.9" y="637" width="21.2" height="2.6" fill="#acc4f5"/>
<rect x="819.9" y="639" width="21.2" height="2.6" fill="#a9c3f5"/>
<rect x="819.9" y="641" width="21.2" height="2.6" fill="#a8c2f5"/>
<rect x="819.9" y="643" width="21.2" height="2.6" fill="#a6c1f5"/>
<rect x="819.9" y="645" width="21.2" height="2.6" fill="#a5c0f5"/>
<rect x="819.9" y="647" width="21.2" height="2.6" fill="#a4bef4"/>
<rect x="819.9" y="649" width="21.2" height="2.6" fill="#a3bdf4"/>
<rect x="819.9" y="651" width="21.2" height="2.6" fill="#a0bbf4"/>
<rect x="819.9" y="653" width="21.2" height="2.6" fill="#9fbaf4"/>
<rect x="819.9" y="655" width="21.2" height="2.6" fill="#9db9f4"/>
<rect x="819.9" y="657" width="21.2" height="2.6" fill="#9cb8f3"/>
<rect x="819.9" y="659" width="21.2" height="2.6" fill="#9bb7f3"/>
<rect x="819.9" y="661" width="21.2" height="2.6" fill="#99b6f3"/>
<rect x="819.9" y="663" width="21.2" height="2.6" fill="#97b3f2"/>
<rect x="819.9" y="665" width="21.2" height="2.6" fill="#95b2f2"/>
<rect x="819.9" y="667" width="21.2" height="2.6" fill="#94b1f1"/>
<rect x="819.9" y="669" width="21.2" height="2.6" fill="#93b0f1"/>
<rect x="819.9" y="671" width="21.2" height="2.6" fill="#91aef0"/>
<rect x="819.9" y="673" width="21.2" height="2.6" fill="#8facef"/>
<rect x="819.9" y="675" width="21.2" height="2.6" fill="#8dabef"/>
<rect x="819.9" y="677" width="21.2" height="2.6" fill="#8ca9ee"/>
<rect x="819.9" y="679" width="21.2" height="2.6" fill="#8ba8ee"/>
<rect x="819.9" y="681" width="21.2" height="2.6" fill="#89a7ed"/>
<rect x="819.9" y="683" width="21.2" height="2.6" fill="#88a5ed"/>
<rect x="819.9" y="685" width="21.2" height="2.6" fill="#85a3eb"/>
<rect x="819.9" y="687" width="21.2" height="2.6" fill="#84a1eb"/>
<rect x="819.9" y="689" width="21.2" height="2.6" fill="#83a0ea"/>
<rect x="819.9" y="691" width="21.2" height="2.6" fill="#819fe9"/>
<rect x="819.9" y="693" width="21.2" height="2.6" fill="#809de9"/>
<rect x="819.9" y="695" width="21.2" height="2.6" fill="#7d9ae7"/>
<rect x="819.9" y="697" width="21.2" height="2.6" fill="#7c99e6"/>
<rect x="819.9" y="699" width="21.2" height="2.6" fill="#7b98e5"/>
<rect x="819.9" y="701" width="21.2" height="2.6" fill="#7996e4"/>
<rect x="819.9" y="703" width="21.2" height="2.6" fill="#7895e4"/>
<rect x="819.9" y="705" width="21.2" height="2.6" fill="#7793e3"/>
<rect x="819.9" y="707" width="21.2" height="2.6" fill="#7490e1"/>
<rect x="819.9" y="709" width="21.2" height="2.6" fill="#738fe0"/>
<rect x="819.9" y="711" width="21.2" height="2.6" fill="#718ddf"/>
<rect x="819.9" y="713" width="21.2" height="2.6" fill="#708cde"/>
<rect x="819.9" y="715" width="21.2" height="2.6" fill="#6f8add"/>
<rect x="819.9" y="717" width="21.2" height="2.6" fill="#6c87db"/>
<rect x="819.9" y="719" width="21.2" height="2.6" fill="#6b86da"/>
<rect x="819.9" y="721" width="21.2" height="2.6" fill="#6984d9"/>
<rect x="819.9" y="723" width="21.2" height="2.6" fill="#6882d8"/>
<rect x="819.9" y="725" width="21.2" height="2.6" fill="#6781d6"/>
<rect x="819.9" y="727" width="21.2" height="2.6" fill="#657fd5"/>
<rect x="819.9" y="729" width="21.2" height="2.6" fill="#637cd3"/>
<rect x="819.9" y="731" width="21.2" height="2.6" fill="#627bd2"/>
<rect x="819.9" y="733" width="21.2" height="2.6" fill="#6079d0"/>
<rect x="819.9" y="735" width="21.2" height="2.6" fill="#5f77cf"/>
<rect x="819.9" y="737" width="21.2" height="2.6" fill="#5e76ce"/>
<rect x="819.9" y="739" width="21.2" height="2.6" fill="#5c74cd"/>
<rect x="819.9" y="741" width="21.2" height="2.6" fill="#5a71ca"/>
<rect x="819.9" y="743" width="21.2" height="2.6" fill="#596fc9"/>
<rect x="819.9" y="745" width="21.2" height="2.6" fill="#576ec7"/>
<rect x="819.9" y="747" width="21.2" height="2.6" fill="#566cc6"/>
<rect x="819.9" y="749" width="21.2" height="2.6" fill="#556ac5"/>
<rect x="819.9" y="751" width="21.2" height="2.6" fill="#5267c2"/>
<rect x="819.9" y="753" width="21.2" height="2.6" fill="#5165c0"/>
<rect x="819.9" y="755" width="21.2" height="2.6" fill="#5064bf"/>
<rect x="819.9" y="757" width="21.2" height="2.6" fill="#4e62bd"/>
<rect x="819.9" y="759" width="21.2" height="2.6" fill="#4d60bc"/>
<rect x="819.9" y="761" width="21.2" height="2.6" fill="#4c5fba"/>
<rect x="819.9" y="763" width="21.2" height="2.6" fill="#495bb7"/>
<rect x="819.9" y="765" width="21.2" height="2.6" fill="#485ab6"/>
<rect x="819.9" y="767" width="21.2" height="2.6" fill="#4758b4"/>
<rect x="819.9" y="769" width="21.2" height="2.6" fill="#4656b3"/>
<rect x="819.9" y="771" width="21.2" height="2.6" fill="#4555b1"/>
<rect x="819.9" y="773" width="21.2" height="2.6" fill="#4251ae"/>
<rect x="819.9" y="775" width="21.2" height="2.6" fill="#414fac"/>
<rect x="819.9" y="777" width="21.2" height="2.6" fill="#404eab"/>
</g>
<rect x="819.9" y="345.3" width="21.2" height="434" fill="none" stroke="#000" stroke-width="2"/>
<g stroke="#000" stroke-width="1.8">
<line x1="819.9" y1="735.9" x2="827.9" y2="735.9"/>
<line x1="819.9" y1="692.5" x2="827.9" y2="692.5"/>
<line x1="819.9" y1="649.1" x2="827.9" y2="649.1"/>
<line x1="819.9" y1="605.7" x2="827.9" y2="605.7"/>
<line x1="819.9" y1="562.3" x2="827.9" y2="562.3"/>
<line x1="819.9" y1="518.9" x2="827.9" y2="518.9"/>
<line x1="819.9" y1="475.5" x2="827.9" y2="475.5"/>
<line x1="819.9" y1="432.1" x2="827.9" y2="432.1"/>
<line x1="819.9" y1="388.7" x2="827.9" y2="388.7"/>
</g>
<g fill="#000" font-size="22" text-anchor="end">
<text x="807.5" y="787.14">0</text>
<text x="807.5" y="700.34">20</text>
<text x="807.5" y="613.54">40</text>
<text x="807.5" y="526.74">60</text>
<text x="807.5" y="439.94">80</text>
<text x="807.5" y="353.14">100</text>
</g>
<polyline points="229.5,129.1 235.73,133.2 241.96,137.23 248.19,141.22 254.42,145.2 260.64,149.03 266.87,152.56 273.1,155.81 279.33,158.88 285.56,161.85 291.79,164.8 298.02,167.73 304.25,170.54 310.47,173.15 316.7,175.54 322.93,177.78 329.16,179.88 335.39,181.84 341.62,183.69 347.85,185.42 354.08,187.05 360.31,188.56 366.53,189.98 372.76,191.31 378.99,192.58 385.22,193.78 391.45,194.91 397.68,196 403.91,197.06 410.14,198.08 416.36,199.07 422.59,200.01 428.82,200.89 435.05,201.71 441.28,202.5 447.51,203.27 453.74,204.04 459.97,204.8 466.19,205.54 472.42,206.27 478.65,206.96 484.88,207.63 491.11,208.25 497.34,208.84 503.57,209.42 509.8,209.97 516.03,210.5 522.25,211 528.48,211.47 534.71,211.92 540.94,212.34 547.17,212.73 553.4,213.11 559.63,213.47 565.86,213.81 572.08,214.14 578.31,214.46 584.54,214.76 590.77,215.04 597,215.3" fill="none" stroke="#111" stroke-width="1.35" stroke-linejoin="round"/>
<polygon points="602.4,215.7 591.69,219.57 592.13,210.78" fill="#000"/>
<text x="61.1" y="34.2" font-size="26" fill="#a1a189">巨大火山噴火の期間 (40 万年間 )</text>
<text x="171.5" y="91" font-size="26" fill="#000">火山性の CO<tspan font-size="15" dy="8">2</tspan><tspan dy="-8"> の蓄積</tspan></text>
<text x="361.5" y="172.5" font-size="26" fill="#000">化学的風化による安定化</text>
<text x="173.8" y="362.5" font-size="26" fill="#000">河川からの栄養塩の蓄積</text>
<text x="275.4" y="924.8" font-size="26" fill="#000">酸素のゆらぎ</text>
<text x="249.5" y="1026" font-size="26" fill="#000">太古代の安定状態</text>
<text x="445.3" y="1118" font-size="26" fill="#000" text-anchor="middle">巨大火山噴火開始からの積算時間 ( 百万年 )</text>
<text transform="translate(62.95 161.3) rotate(-90)" font-size="26" fill="#000" text-anchor="middle">大気 CO<tspan font-size="15" dy="8">2</tspan><tspan dy="-8"> 分圧</tspan></text>
<text transform="translate(96.8 161.3) rotate(-90)" font-size="24" fill="#000" text-anchor="middle">(PAL)</text>
<text transform="translate(62.95 419.1) rotate(-90)" font-size="26" fill="#000" text-anchor="middle">海洋深層水リン濃度</text>
<text transform="translate(96.8 419.1) rotate(-90)" font-size="24" fill="#000" text-anchor="middle">(µM)</text>
<text transform="translate(62.95 677.2) rotate(-90)" font-size="26" fill="#000" text-anchor="middle">海洋基礎生産速度</text>
<text transform="translate(96.8 677.2) rotate(-90)" font-size="24" fill="#000" text-anchor="middle">(Tmol C yr<tspan font-size="14" dy="-10">−1</tspan><tspan dy="10">)</tspan></text>
<text transform="translate(62.95 931.4) rotate(-90)" font-size="26" fill="#000" text-anchor="middle">大気酸素濃度</text>
<text transform="translate(96.8 931.4) rotate(-90)" font-size="24" fill="#000" text-anchor="middle">(PAL)</text>
<text transform="translate(890.4 583.4) rotate(-90)" font-size="32" fill="#000" text-anchor="middle">火山からの総炭素流入量 (% 顕生代の最大見積もり )</text>
</svg>
</body></html>
